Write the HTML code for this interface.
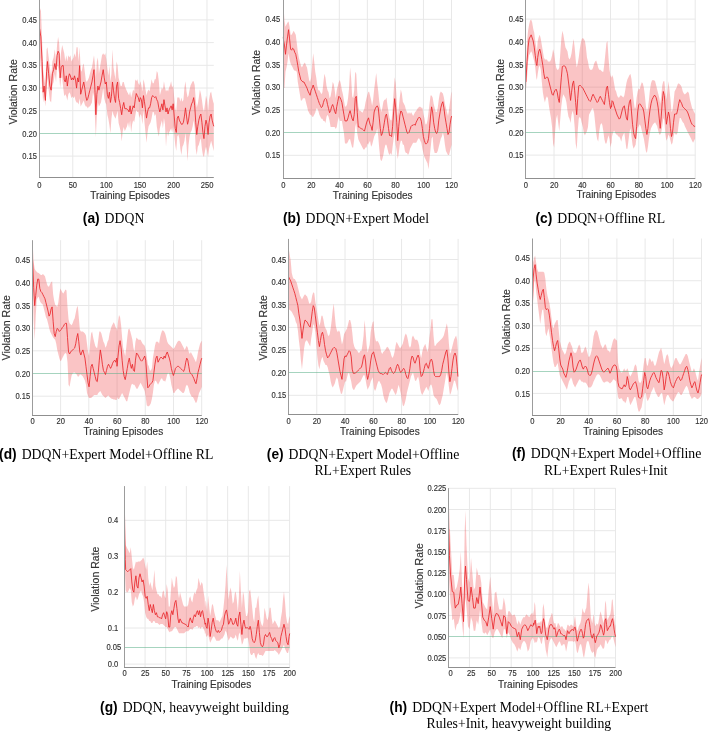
<!DOCTYPE html>
<html><head><meta charset="utf-8"><style>html,body{margin:0;padding:0;background:#fff;}svg{display:block;will-change:transform}</style></head>
<body><svg width="708" height="732" viewBox="0 0 708 732" shape-rendering="auto">
<rect width="708" height="732" fill="#fff"/>
<g stroke="#e8e8e8" stroke-width="1"><line x1="72.76" y1="0" x2="72.76" y2="177.4"/><line x1="106.32" y1="0" x2="106.32" y2="177.4"/><line x1="139.87" y1="0" x2="139.87" y2="177.4"/><line x1="173.43" y1="0" x2="173.43" y2="177.4"/><line x1="206.99" y1="0" x2="206.99" y2="177.4"/><line x1="39.3" y1="19.9" x2="213.8" y2="19.9"/><line x1="39.3" y1="42.6" x2="213.8" y2="42.6"/><line x1="39.3" y1="65.3" x2="213.8" y2="65.3"/><line x1="39.3" y1="88" x2="213.8" y2="88"/><line x1="39.3" y1="110.7" x2="213.8" y2="110.7"/><line x1="39.3" y1="156.1" x2="213.8" y2="156.1"/></g>
<polygon fill="#f03c3f" fill-opacity="0.3" points="39.64,12.3 40.87,8.2 42.1,40.98 43.13,69.67 44.15,77.87 45.38,86.07 46.62,49.18 47.44,47.13 48.67,57.38 49.9,67.62 51.13,77.87 52.36,61.48 53.59,57.38 54.82,49.18 56.05,61.48 57.08,45.08 58.1,36.89 59.13,43.03 60.15,61.48 61.18,51.23 62.21,45.08 63.23,49.18 64.26,53.28 65.28,61.48 66.31,55.33 67.33,61.48 68.36,55.33 69.38,57.38 70.41,55.33 71.44,61.48 72.46,59.43 73.49,57.38 74.51,53.28 75.54,57.38 76.56,47.13 77.59,47.13 78.62,61.48 79.64,47.13 80.67,69.67 81.69,71.72 82.72,65.57 83.74,63.52 84.77,71.72 85.79,79.92 86.82,81.97 87.85,79.92 88.87,77.87 89.9,73.77 90.92,69.67 91.95,67.62 92.97,61.48 94,55.33 95.03,65.57 95.85,77.87 96.87,61.48 97.9,57.38 98.92,73.77 99.95,67.62 100.97,61.48 102,55.33 103.23,53.28 104.26,55.33 105.28,53.28 106.31,59.43 107.33,67.62 108.36,75.82 109.38,65.57 110.41,81.97 111.44,73.77 112.46,49.18 113.49,67.62 114.51,73.77 115.54,79.92 116.56,61.48 117.59,65.57 118.62,77.87 119.64,81.97 120.67,86.07 121.69,86.07 122.72,81.97 123.74,81.97 124.77,86.07 127.03,91.48 128.05,93.52 129.08,95.57 130.1,91.48 131.13,97.62 132.15,93.52 133.18,89.43 134.21,91.48 135.23,79.18 136.26,81.23 137.28,79.18 138.31,83.28 139.33,85.33 140.36,81.23 141.38,85.33 142.41,91.48 143.44,79.18 144.46,83.28 145.49,89.43 146.51,95.57 147.54,91.48 148.56,89.43 149.59,91.48 150.62,85.33 151.64,79.18 152.67,83.28 153.69,83.28 154.72,79.18 155.74,79.18 156.77,70.98 157.79,73.03 158.82,81.23 159.85,95.57 160.87,91.48 161.9,87.38 162.92,89.43 163.95,81.23 164.97,87.38 166,91.48 167.03,89.43 168.05,91.48 169.08,87.38 170.1,85.33 171.13,81.23 172.15,87.38 173.18,85.33 174.21,97.62 175.23,107.87 176.26,111.97 177.28,97.62 178.31,97.62 179.33,97.62 180.36,101.72 181.38,97.62 182.41,101.72 183.44,99.67 184.46,87.38 185.49,81.23 186.51,91.48 187.54,97.62 188.56,95.57 189.59,89.43 190.62,85.33 191.64,83.28 192.67,81.23 193.69,81.23 194.72,85.33 195.74,99.67 196.77,107.87 197.79,103.77 198.82,97.62 199.85,89.43 200.87,93.52 201.9,99.67 202.92,107.87 203.95,111.97 204.97,103.77 206,95.57 207.03,99.67 208.05,111.97 209.08,99.67 210.1,93.52 211.13,91.48 212.15,97.62 213.18,101.72 213.8,103.77 213.8,150.9 213.18,148.85 212.15,144.75 211.13,140.66 210.1,144.75 209.08,148.85 208.05,157.05 207.03,150.9 206,146.8 204.97,150.9 203.95,157.05 202.92,155 201.9,148.85 200.87,138.61 199.85,140.66 198.82,144.75 197.79,146.8 196.77,155 195.74,148.85 194.72,128.36 193.69,120.16 192.67,126.31 191.64,130.41 190.62,132.46 189.59,136.56 188.56,144.75 187.54,161.15 186.51,144.75 185.49,132.46 184.46,140.66 183.44,144.75 182.41,146.8 181.38,155 180.36,148.85 179.33,138.61 178.31,134.51 177.28,136.56 176.26,150.9 175.23,144.75 174.21,134.51 173.18,126.31 172.15,132.46 171.13,128.36 170.1,130.41 169.08,132.46 168.05,136.56 167.03,130.41 166,146.8 164.97,124.26 163.95,118.11 162.92,128.36 161.9,120.16 160.87,124.26 159.85,128.36 158.82,136.56 157.79,132.46 156.77,126.31 155.74,114.02 154.72,116.07 153.69,111.97 152.67,111.97 151.64,118.11 150.62,122.21 149.59,124.26 148.56,126.31 147.54,132.46 146.51,142.7 145.49,132.46 144.46,122.21 143.44,109.92 142.41,124.26 141.38,116.07 140.36,114.02 139.33,118.11 138.31,111.97 137.28,111.97 136.26,109.92 135.23,116.07 134.21,122.21 133.18,120.16 132.15,124.26 131.13,132.46 130.1,120.16 129.08,128.36 128.05,122.21 127.03,126.31 124.77,131.15 123.74,127.05 122.72,131.15 121.69,141.39 120.67,131.15 119.64,127.05 118.62,122.95 117.59,110.66 116.56,114.75 115.54,118.85 114.51,116.8 113.49,114.75 112.46,110.66 111.44,118.85 110.41,133.2 109.38,125 108.36,118.85 107.33,114.75 106.31,104.51 105.28,102.46 104.26,98.36 103.23,88.11 102,96.31 100.97,102.46 99.95,104.51 98.92,106.56 97.9,102.46 96.87,114.75 95.85,137.3 95.03,118.85 94,96.31 92.97,92.21 91.95,102.46 90.92,104.51 89.9,106.56 88.87,106.56 87.85,108.61 86.82,106.56 85.79,106.56 84.77,104.51 83.74,100.41 82.72,102.46 81.69,104.51 80.67,106.56 79.64,98.36 78.62,104.51 77.59,102.46 76.56,102.46 75.54,100.41 74.51,96.31 73.49,98.36 72.46,96.31 71.44,98.36 70.41,94.26 69.38,92.21 68.36,94.26 67.33,100.41 66.31,96.31 65.28,94.26 64.26,96.31 63.23,88.11 62.21,77.87 61.18,77.87 60.15,88.11 59.13,73.77 58.1,67.62 57.08,65.57 56.05,81.97 54.82,73.77 53.59,81.97 52.36,86.07 51.13,102.46 49.9,100.41 48.67,90.16 47.44,77.87 46.62,88.11 45.38,106.56 44.15,96.31 43.13,102.46 42.1,86.07 40.87,67.62 39.64,53.28"/>
<line x1="39.3" y1="133.5" x2="213.8" y2="133.5" stroke="#5cb08a" stroke-opacity="0.55" stroke-width="1"/>
<polyline fill="none" stroke="#e8262b" stroke-width="0.85" stroke-linejoin="miter" stroke-miterlimit="3" points="39.64,28.69 40.87,36.89 42.1,61.48 43.13,92.21 44.15,86.07 45.38,100.41 46.62,71.72 47.44,61.48 48.67,73.77 49.9,86.07 51.13,90.16 52.36,73.77 53.59,69.67 54.82,63.52 56.05,69.67 57.08,55.33 58.1,51.23 59.13,53.28 60.15,77.87 61.18,67.62 62.21,65.57 63.23,65.57 64.26,79.92 65.28,81.97 66.31,75.82 67.33,86.07 68.36,77.87 69.38,73.77 70.41,75.82 71.44,79.92 72.46,77.87 73.49,79.92 74.51,75.82 75.54,79.92 76.56,88.11 77.59,77.87 78.62,81.97 79.64,65.57 80.67,94.26 81.69,90.16 82.72,86.07 83.74,81.97 84.77,88.11 85.79,96.31 86.82,100.41 87.85,98.36 88.87,94.26 89.9,90.16 90.92,86.07 91.95,81.97 92.97,75.82 94,69.67 95.03,92.21 95.85,114.75 96.87,94.26 97.9,86.07 98.92,90.16 99.95,86.07 100.97,81.97 102,75.82 103.23,69.67 104.26,77.87 105.28,84.02 106.31,81.97 107.33,94.26 108.36,98.36 109.38,92.21 110.41,102.46 111.44,96.31 112.46,81.97 113.49,90.16 114.51,98.36 115.54,102.46 116.56,86.07 117.59,81.97 118.62,98.36 119.64,102.46 120.67,108.61 121.69,114.75 122.72,106.56 123.74,102.46 124.77,108.61 127.03,108.89 128.05,109.92 129.08,111.97 130.1,105.82 131.13,114.02 132.15,109.92 133.18,105.82 134.21,107.87 135.23,99.67 136.26,93.52 137.28,95.57 138.31,97.62 139.33,101.72 140.36,97.62 141.38,99.67 142.41,107.87 143.44,95.57 144.46,101.72 145.49,109.92 146.51,118.11 147.54,111.97 148.56,107.87 149.59,107.87 150.62,103.77 151.64,97.62 152.67,95.57 153.69,96.6 154.72,97.62 155.74,96.6 156.77,99.67 157.79,101.72 158.82,107.87 159.85,111.97 160.87,107.87 161.9,103.77 162.92,109.92 163.95,99.67 164.97,105.82 166,111.97 167.03,107.87 168.05,114.02 169.08,109.92 170.1,107.87 171.13,105.82 172.15,109.92 173.18,103.77 174.21,116.07 175.23,128.36 176.26,132.46 177.28,118.11 178.31,116.07 179.33,120.16 180.36,122.21 181.38,124.26 182.41,124.26 183.44,122.21 184.46,116.07 185.49,107.87 186.51,116.07 187.54,124.26 188.56,120.16 189.59,111.97 190.62,107.87 191.64,103.77 192.67,101.72 193.69,97.62 194.72,105.82 195.74,122.21 196.77,134.51 197.79,126.31 198.82,120.16 199.85,116.07 200.87,114.02 201.9,122.21 202.92,132.46 203.95,138.61 204.97,126.31 206,120.16 207.03,124.26 208.05,134.51 209.08,122.21 210.1,116.07 211.13,114.02 212.15,120.16 213.18,124.26 213.8,126.31"/>
<path d="M39.5,0V177.5" fill="none" stroke="#9c9c9c" stroke-width="1"/>
<path d="M39,177.5H213.8" fill="none" stroke="#8f8f8f" stroke-width="1"/>
<g font-family='"Liberation Sans", sans-serif' font-size="8.4" fill="#333" stroke="#333" stroke-width="0.15"><text transform="translate(36.9,23) scale(0.9,1)" text-anchor="end">0.45</text><text transform="translate(36.9,45.7) scale(0.9,1)" text-anchor="end">0.40</text><text transform="translate(36.9,68.4) scale(0.9,1)" text-anchor="end">0.35</text><text transform="translate(36.9,91.1) scale(0.9,1)" text-anchor="end">0.30</text><text transform="translate(36.9,113.8) scale(0.9,1)" text-anchor="end">0.25</text><text transform="translate(36.9,136.5) scale(0.9,1)" text-anchor="end">0.20</text><text transform="translate(36.9,159.2) scale(0.9,1)" text-anchor="end">0.15</text><text transform="translate(39.3,187.6) scale(0.9,1)" text-anchor="middle">0</text><text transform="translate(72.86,187.6) scale(0.9,1)" text-anchor="middle">50</text><text transform="translate(106.42,187.6) scale(0.9,1)" text-anchor="middle">100</text><text transform="translate(139.97,187.6) scale(0.9,1)" text-anchor="middle">150</text><text transform="translate(173.53,187.6) scale(0.9,1)" text-anchor="middle">200</text><text transform="translate(207.09,187.6) scale(0.9,1)" text-anchor="middle">250</text></g>
<text x="130" y="198.7" text-anchor="middle" font-family='"Liberation Sans", sans-serif' font-size="10" fill="#333" stroke="#333" stroke-width="0.15">Training Episodes</text>
<text transform="translate(16.9,91.8) rotate(-90)" text-anchor="middle" font-family='"Liberation Sans", sans-serif' font-size="10.5" fill="#333" stroke="#333" stroke-width="0.15">Violation Rate</text>
<text x="82.8" y="222.6" font-family='"Liberation Sans", sans-serif' font-weight="bold" font-size="13.75" fill="#000">(a)<tspan font-family='"Liberation Serif", serif' font-weight="normal" dx="5">DDQN</tspan></text>
<g stroke="#e8e8e8" stroke-width="1"><line x1="311.25" y1="0" x2="311.25" y2="178.4"/><line x1="339.3" y1="0" x2="339.3" y2="178.4"/><line x1="367.35" y1="0" x2="367.35" y2="178.4"/><line x1="395.4" y1="0" x2="395.4" y2="178.4"/><line x1="423.45" y1="0" x2="423.45" y2="178.4"/><line x1="451.5" y1="0" x2="451.5" y2="178.4"/><line x1="283.3" y1="19.3" x2="451.6" y2="19.3"/><line x1="283.3" y1="41.97" x2="451.6" y2="41.97"/><line x1="283.3" y1="64.63" x2="451.6" y2="64.63"/><line x1="283.3" y1="87.3" x2="451.6" y2="87.3"/><line x1="283.3" y1="109.97" x2="451.6" y2="109.97"/><line x1="283.3" y1="155.3" x2="451.6" y2="155.3"/></g>
<polygon fill="#f03c3f" fill-opacity="0.3" points="283.3,-4.1 283.64,8.2 284.46,20.49 285.49,26.64 286.51,24.59 287.54,22.54 288.56,21.52 289.59,26.64 290.62,34.84 291.64,34.84 292.67,32.79 293.69,30.74 294.72,32.79 295.74,34.84 296.77,43.03 297.79,51.23 298.82,57.38 299.85,61.48 300.87,65.57 301.9,67.62 302.92,65.57 303.95,63.52 304.97,62.5 306,65.57 307.03,67.62 308.05,73.77 309.08,79.92 310.1,81.97 311.13,77.87 312.15,65.57 313.18,53.28 314.21,61.48 315.23,71.72 316.26,77.87 317.28,86.07 318.31,90.16 319.33,90.16 320.36,92.21 321.38,94.26 322.41,92.21 323.44,81.97 324.46,73.77 325.49,77.87 326.51,86.07 327.54,90.16 328.56,92.21 329.59,98.36 330.62,96.31 331.64,90.16 332.67,81.97 333.69,84.02 334.72,90.16 335.74,98.36 336.77,90.16 337.79,86.07 338.82,81.97 339.85,79.92 340.87,84.02 341.9,90.16 342.92,94.26 343.95,100.41 344.97,106.56 346,106.56 347.03,104.51 348.05,98.36 349.08,88.11 350.1,67.62 351.13,77.87 352.15,96.31 353.18,98.36 354.21,90.16 355.23,71.72 356.26,73.77 357.28,92.21 358.31,106.56 359.33,110.66 360.36,110.66 361.38,111.68 362.41,112.7 363.44,110.66 364.46,108.61 365.49,102.46 366.51,98.36 367.54,94.26 368.41,91.48 368.56,92.21 369.03,91.48 370.05,95.57 371.08,99.67 372.1,105.82 373.13,99.67 374.15,89.43 375.18,81.23 376.21,73.03 377.23,83.28 378.26,91.48 379.28,101.72 380.31,107.87 381.33,111.97 382.36,107.87 383.38,101.72 384.41,99.67 385.44,99.67 386.46,97.62 387.49,105.82 388.51,111.97 389.54,118.11 390.56,120.16 391.59,120.16 392.62,107.87 393.64,91.48 394.67,77.13 395.69,83.28 396.72,99.67 397.74,116.07 398.77,107.87 399.79,97.62 400.82,89.43 401.85,93.52 402.87,101.72 403.9,103.77 404.92,105.82 405.95,109.92 406.97,111.97 408,114.02 409.03,111.97 410.05,114.02 411.08,111.97 412.1,114.02 413.13,116.07 414.15,114.02 415.18,111.97 416.21,110.94 417.23,108.89 418.26,107.87 419.28,106.84 420.31,106.84 421.33,107.87 422.36,107.87 423.38,114.02 424.41,118.11 425.44,124.26 426.46,124.26 427.49,120.16 428.51,111.97 429.54,103.77 430.56,95.57 431.59,95.57 432.62,97.62 433.64,103.77 434.67,107.87 435.69,111.97 436.72,111.97 437.74,107.87 438.77,99.67 439.79,93.52 440.82,91.48 441.85,92.5 442.87,93.52 443.9,97.62 444.92,103.77 445.95,107.87 446.97,111.97 448,116.07 449.03,109.92 450.05,101.72 451.08,93.52 451.6,91.48 451.6,144.75 451.08,146.8 450.05,150.9 449.03,155 448,155 446.97,152.95 445.95,150.9 444.92,144.75 443.9,136.56 442.87,132.46 441.85,136.56 440.82,138.61 439.79,142.7 438.77,146.8 437.74,150.9 436.72,152.95 435.69,152.95 434.67,152.95 433.64,148.85 432.62,136.56 431.59,138.61 430.56,148.85 429.54,159.1 428.51,169.34 427.49,163.2 426.46,161.15 425.44,159.1 424.41,157.05 423.38,152.95 422.36,148.85 421.33,142.7 420.31,140.66 419.28,138.61 418.26,138.61 417.23,140.66 416.21,142.7 415.18,142.7 414.15,142.7 413.13,142.7 412.1,144.75 411.08,146.8 410.05,148.85 409.03,152.95 408,155 406.97,152.95 405.95,152.95 404.92,150.9 403.9,144.75 402.87,144.75 401.85,140.66 400.82,140.66 399.79,144.75 398.77,152.95 397.74,159.1 396.72,150.9 395.69,144.75 394.67,132.46 393.64,138.61 392.62,146.8 391.59,155 390.56,152.95 389.54,155 388.51,152.95 387.49,148.85 386.46,144.75 385.44,144.75 384.41,148.85 383.38,155 382.36,159.1 381.33,161.15 380.31,159.1 379.28,148.85 378.26,136.56 377.23,128.36 376.21,132.46 375.18,134.51 374.15,136.56 373.13,140.66 372.1,144.75 371.08,146.8 370.05,140.66 369.03,142.7 368.56,143.44 368.41,144.75 367.54,143.44 366.51,147.54 365.49,147.54 364.46,149.59 363.44,149.59 362.41,147.54 361.38,145.49 360.36,143.44 359.33,141.39 358.31,139.34 357.28,133.2 356.26,122.95 355.23,127.05 354.21,139.34 353.18,147.54 352.15,147.54 351.13,143.44 350.1,139.34 349.08,139.34 348.05,141.39 347.03,143.44 346,143.44 344.97,143.44 343.95,133.2 342.92,127.05 341.9,120.9 340.87,120.9 339.85,120.9 338.82,116.8 337.79,120.9 336.77,127.05 335.74,129.1 334.72,127.05 333.69,127.05 332.67,127.05 331.64,127.05 330.62,127.05 329.59,120.9 328.56,116.8 327.54,114.75 326.51,116.8 325.49,122.95 324.46,120.9 323.44,120.9 322.41,118.85 321.38,118.85 320.36,116.8 319.33,114.75 318.31,110.66 317.28,108.61 316.26,108.61 315.23,112.7 314.21,114.75 313.18,116.8 312.15,116.8 311.13,114.75 310.1,114.75 309.08,112.7 308.05,110.66 307.03,106.56 306,102.46 304.97,98.36 303.95,98.36 302.92,98.36 301.9,100.41 300.87,100.41 299.85,94.26 298.82,88.11 297.79,81.97 296.77,71.72 295.74,70.7 294.72,70.7 293.69,69.67 292.67,67.62 291.64,65.57 290.62,63.52 289.59,59.43 288.56,53.28 287.54,61.48 286.51,67.62 285.49,71.72 284.46,88.11 283.64,88.11 283.3,86.07"/>
<line x1="283.3" y1="132.5" x2="451.6" y2="132.5" stroke="#5cb08a" stroke-opacity="0.55" stroke-width="1"/>
<polyline fill="none" stroke="#e8262b" stroke-width="0.85" stroke-linejoin="miter" stroke-miterlimit="3" points="283.3,36.89 283.64,40.98 284.46,45.08 285.49,54.3 286.51,45.08 287.54,36.89 288.56,29.71 289.59,38.93 290.62,49.18 291.64,50.2 292.67,48.16 293.69,49.18 294.72,52.25 295.74,54.3 296.77,59.43 297.79,65.57 298.82,71.72 299.85,75.82 300.87,79.92 301.9,80.94 302.92,81.97 303.95,81.97 304.97,84.02 306,86.07 307.03,88.11 308.05,91.19 309.08,93.24 310.1,95.29 311.13,90.16 312.15,88.11 313.18,85.04 314.21,88.11 315.23,91.19 316.26,94.26 317.28,97.34 318.31,100.41 319.33,103.48 320.36,105.53 321.38,107.58 322.41,106.56 323.44,102.46 324.46,99.39 325.49,98.36 326.51,99.39 327.54,104.51 328.56,108.61 329.59,112.7 330.62,110.66 331.64,106.56 332.67,104.51 333.69,107.58 334.72,111.68 335.74,113.73 336.77,106.56 337.79,101.43 338.82,96.31 339.85,97.34 340.87,99.39 341.9,102.46 342.92,108.61 343.95,114.75 344.97,120.9 346,120.9 347.03,120.9 348.05,117.83 349.08,113.73 350.1,110.66 351.13,114.75 352.15,118.85 353.18,120.9 354.21,114.75 355.23,98.36 356.26,96.31 357.28,112.7 358.31,127.05 359.33,127.05 360.36,128.07 361.38,128.69 362.41,129.1 363.44,130.12 364.46,131.15 365.49,127.05 366.51,122.95 367.54,119.88 368.41,118.11 368.56,117.83 369.03,120.16 370.05,124.26 371.08,126.31 372.1,130.41 373.13,122.21 374.15,111.97 375.18,108.89 376.21,106.84 377.23,105.82 378.26,107.87 379.28,118.11 380.31,128.36 381.33,135.53 382.36,133.48 383.38,128.36 384.41,122.21 385.44,116.07 386.46,114.02 387.49,120.16 388.51,128.36 389.54,135.53 390.56,135.53 391.59,136.56 392.62,126.31 393.64,111.97 394.67,98.65 395.69,107.87 396.72,122.21 397.74,140.66 398.77,126.31 399.79,116.07 400.82,110.94 401.85,111.97 402.87,116.07 403.9,120.16 404.92,124.26 405.95,128.36 406.97,132.46 408,133.48 409.03,132.46 410.05,129.39 411.08,126.31 412.1,125.29 413.13,125.29 414.15,124.26 415.18,125.29 416.21,122.21 417.23,120.16 418.26,118.11 419.28,117.09 420.31,118.11 421.33,121.19 422.36,128.36 423.38,136.56 424.41,140.66 425.44,143.73 426.46,143.73 427.49,142.7 428.51,138.61 429.54,128.36 430.56,116.07 431.59,106.84 432.62,111.97 433.64,122.21 434.67,128.36 435.69,132.46 436.72,133.48 437.74,130.41 438.77,120.16 439.79,114.02 440.82,107.87 441.85,103.77 442.87,101.72 443.9,107.87 444.92,116.07 445.95,122.21 446.97,128.36 448,134.51 449.03,132.46 450.05,124.26 451.08,118.11 451.6,116.07"/>
<path d="M283.5,0V178.5" fill="none" stroke="#9c9c9c" stroke-width="1"/>
<path d="M283,178.5H451.6" fill="none" stroke="#8f8f8f" stroke-width="1"/>
<g font-family='"Liberation Sans", sans-serif' font-size="8.4" fill="#333" stroke="#333" stroke-width="0.15"><text transform="translate(280.1,22.4) scale(0.9,1)" text-anchor="end">0.45</text><text transform="translate(280.1,45.07) scale(0.9,1)" text-anchor="end">0.40</text><text transform="translate(280.1,67.73) scale(0.9,1)" text-anchor="end">0.35</text><text transform="translate(280.1,90.4) scale(0.9,1)" text-anchor="end">0.30</text><text transform="translate(280.1,113.07) scale(0.9,1)" text-anchor="end">0.25</text><text transform="translate(280.1,135.73) scale(0.9,1)" text-anchor="end">0.20</text><text transform="translate(280.1,158.4) scale(0.9,1)" text-anchor="end">0.15</text><text transform="translate(283.3,187.6) scale(0.9,1)" text-anchor="middle">0</text><text transform="translate(311.35,187.6) scale(0.9,1)" text-anchor="middle">20</text><text transform="translate(339.4,187.6) scale(0.9,1)" text-anchor="middle">40</text><text transform="translate(367.45,187.6) scale(0.9,1)" text-anchor="middle">60</text><text transform="translate(395.5,187.6) scale(0.9,1)" text-anchor="middle">80</text><text transform="translate(423.55,187.6) scale(0.9,1)" text-anchor="middle">100</text><text transform="translate(451.6,187.6) scale(0.9,1)" text-anchor="middle">120</text></g>
<text x="372.7" y="198.5" text-anchor="middle" font-family='"Liberation Sans", sans-serif' font-size="10" fill="#333" stroke="#333" stroke-width="0.15">Training Episodes</text>
<text transform="translate(260.4,82.5) rotate(-90)" text-anchor="middle" font-family='"Liberation Sans", sans-serif' font-size="10.5" fill="#333" stroke="#333" stroke-width="0.15">Violation Rate</text>
<text x="283" y="222.6" font-family='"Liberation Sans", sans-serif' font-weight="bold" font-size="13.75" fill="#000">(b)<tspan font-family='"Liberation Serif", serif' font-weight="normal" dx="5">DDQN+Expert Model</tspan></text>
<g stroke="#e8e8e8" stroke-width="1"><line x1="554.03" y1="0" x2="554.03" y2="178.4"/><line x1="582.27" y1="0" x2="582.27" y2="178.4"/><line x1="610.5" y1="0" x2="610.5" y2="178.4"/><line x1="638.73" y1="0" x2="638.73" y2="178.4"/><line x1="666.97" y1="0" x2="666.97" y2="178.4"/><line x1="695.2" y1="0" x2="695.2" y2="178.4"/><line x1="525.9" y1="19.1" x2="695.3" y2="19.1"/><line x1="525.9" y1="41.77" x2="695.3" y2="41.77"/><line x1="525.9" y1="64.43" x2="695.3" y2="64.43"/><line x1="525.9" y1="87.1" x2="695.3" y2="87.1"/><line x1="525.9" y1="109.77" x2="695.3" y2="109.77"/><line x1="525.9" y1="155.1" x2="695.3" y2="155.1"/></g>
<polygon fill="#f03c3f" fill-opacity="0.3" points="525.9,67.62 527.05,40.98 528.08,30.74 529.1,24.59 530.13,20.49 531.15,19.47 532.18,22.54 533.21,28.69 534.23,32.79 535.26,40.98 536.28,47.13 536.9,51.23 537.72,40.98 538.74,36.89 539.77,34.84 540.79,38.93 541.82,45.08 542.85,51.23 543.87,57.38 544.9,59.43 545.92,59.43 546.95,59.43 547.97,61.48 549,61.48 550.03,61.48 551.05,59.43 552.08,55.33 553.1,49.18 554.13,53.28 555.15,61.48 556.18,67.62 557.21,69.67 558.23,69.67 559.26,67.62 560.28,53.28 561.31,38.93 562.33,30.74 563.36,34.84 564.38,40.98 565.41,47.13 566.44,49.18 567.46,51.23 568.49,57.38 569.51,59.43 570.54,57.38 571.56,53.28 572.59,45.08 573.62,38.93 574.64,47.13 575.67,59.43 576.69,67.62 577.72,63.52 578.74,57.38 579.77,49.18 580.79,43.03 581.82,38.93 582.85,37.91 583.87,38.93 584.9,40.98 585.92,47.13 586.95,57.38 587.97,61.48 589,67.62 590.03,69.67 591.05,69.67 592.08,69.67 593.1,67.62 594.13,63.52 595.15,61.48 596.18,60.45 597.21,63.52 598.23,67.62 599.26,69.67 600.28,69.67 601.31,70.7 602.33,71.72 603.36,71.72 604.38,63.52 605.41,53.28 606.44,43.03 607.46,40.98 608.49,57.38 609.51,69.67 610.54,75.82 611.41,77.13 611.56,77.87 612.03,75.08 613.05,77.13 614.08,83.28 615.1,89.43 616.13,91.48 617.15,95.57 618.18,97.62 619.21,97.62 620.23,95.57 621.26,95.57 622.28,96.6 623.31,97.62 624.33,95.57 625.36,89.43 626.38,83.28 627.41,79.18 628.44,77.13 629.46,75.08 630.49,74.06 631.51,79.18 632.54,89.43 633.56,99.67 634.59,107.87 635.62,107.87 636.64,97.62 637.67,91.48 638.69,88.4 639.72,89.43 640.74,85.33 641.77,82.25 642.79,83.28 643.82,87.38 644.85,95.57 645.87,105.82 646.9,111.97 647.92,107.87 648.95,99.67 649.97,89.43 651,83.28 652.03,80.2 653.05,80.2 654.08,80.2 655.1,81.23 656.13,85.33 657.15,89.43 658.18,93.52 659.21,97.62 660.23,103.77 661.26,95.57 662.28,85.33 663.31,81.23 664.33,81.23 665.36,91.48 666.38,99.67 667.41,91.48 668.44,81.23 669.46,89.43 670.49,99.67 671.51,111.97 672.54,109.92 673.56,101.72 674.59,91.48 675.62,89.43 676.64,87.38 677.67,84.3 678.69,83.28 679.72,84.3 680.74,85.33 681.77,87.38 682.79,91.48 683.82,93.52 684.85,94.55 685.87,93.52 686.9,92.5 687.92,91.48 688.95,93.52 689.97,99.67 691,103.77 692.03,107.87 693.05,109.92 694.08,111.97 695.1,114.02 695.1,138.61 694.08,140.66 693.05,142.7 692.03,140.66 691,138.61 689.97,136.56 688.95,134.51 687.92,132.46 686.9,130.41 685.87,128.36 684.85,126.31 683.82,123.24 682.79,122.21 681.77,120.16 680.74,118.11 679.72,118.11 678.69,124.26 677.67,132.46 676.64,134.51 675.62,134.51 674.59,132.46 673.56,136.56 672.54,142.7 671.51,144.75 670.49,140.66 669.46,136.56 668.44,134.51 667.41,138.61 666.38,140.66 665.36,134.51 664.33,120.16 663.31,118.11 662.28,126.31 661.26,132.46 660.23,134.51 659.21,134.51 658.18,130.41 657.15,126.31 656.13,124.26 655.1,122.21 654.08,123.24 653.05,124.26 652.03,126.31 651,128.36 649.97,132.46 648.95,138.61 647.92,146.8 646.9,152.95 645.87,150.9 644.85,144.75 643.82,138.61 642.79,134.51 641.77,130.41 640.74,126.31 639.72,124.26 638.69,126.31 637.67,128.36 636.64,136.56 635.62,144.75 634.59,146.8 633.56,148.85 632.54,144.75 631.51,136.56 630.49,128.36 629.46,132.46 628.44,140.66 627.41,148.85 626.38,148.85 625.36,140.66 624.33,132.46 623.31,134.51 622.28,136.56 621.26,141.68 620.23,138.61 619.21,136.56 618.18,136.56 617.15,134.51 616.13,134.51 615.1,132.46 614.08,130.41 613.05,132.46 612.03,136.56 611.56,143.44 611.41,142.7 610.54,147.54 609.51,139.34 608.49,135.25 607.46,139.34 606.44,143.44 605.41,143.44 604.38,139.34 603.36,131.15 602.33,125 601.31,122.95 600.28,125 599.26,131.15 598.23,141.39 597.21,139.34 596.18,133.2 595.15,122.95 594.13,112.7 593.1,108.61 592.08,108.61 591.05,110.66 590.03,112.7 589,114.75 587.97,127.05 586.95,131.15 585.92,133.2 584.9,135.25 583.87,133.2 582.85,127.05 581.82,122.95 580.79,118.85 579.77,116.8 578.74,118.85 577.72,131.15 576.69,149.59 575.67,143.44 574.64,127.05 573.62,114.75 572.59,110.66 571.56,114.75 570.54,122.95 569.51,118.85 568.49,116.8 567.46,110.66 566.44,102.46 565.41,98.36 564.38,96.31 563.36,94.26 562.33,98.36 561.31,106.56 560.28,118.85 559.26,131.15 558.23,122.95 557.21,114.75 556.18,118.85 555.15,131.15 554.13,147.54 553.1,143.44 552.08,127.05 551.05,118.85 550.03,112.7 549,106.56 547.97,98.36 546.95,96.31 545.92,98.36 544.9,102.46 543.87,98.36 542.85,92.21 541.82,81.97 540.79,69.67 539.77,65.57 538.74,67.62 537.72,73.77 536.9,79.92 536.28,77.87 535.26,67.62 534.23,61.48 533.21,57.38 532.18,53.28 531.15,51.23 530.13,53.28 529.1,55.33 528.08,61.48 527.05,77.87 525.9,90.16"/>
<line x1="525.9" y1="132.5" x2="695.3" y2="132.5" stroke="#5cb08a" stroke-opacity="0.55" stroke-width="1"/>
<polyline fill="none" stroke="#e8262b" stroke-width="0.85" stroke-linejoin="miter" stroke-miterlimit="3" points="525.9,81.97 527.05,61.48 528.08,47.13 529.1,38.93 530.13,36.89 531.15,34.84 532.18,37.91 533.21,40.98 534.23,47.13 535.26,55.33 536.28,63.52 536.9,65.57 537.72,57.38 538.74,51.23 539.77,49.18 540.79,53.28 541.82,59.43 542.85,65.57 543.87,73.77 544.9,78.89 545.92,77.87 546.95,76.84 547.97,77.87 549,81.97 550.03,86.07 551.05,90.16 552.08,94.26 553.1,95.29 554.13,92.21 555.15,90.16 556.18,89.14 557.21,92.21 558.23,98.36 559.26,102.46 560.28,90.16 561.31,77.87 562.33,66.6 563.36,65.98 564.38,65.98 565.41,66.6 566.44,69.67 567.46,73.77 568.49,81.97 569.51,90.16 570.54,100.41 571.56,92.21 572.59,84.02 573.62,80.94 574.64,90.16 575.67,102.46 576.69,114.75 577.72,98.36 578.74,86.07 579.77,85.04 580.79,86.07 581.82,87.09 582.85,88.11 583.87,90.16 584.9,92.21 585.92,94.26 586.95,96.31 587.97,98.36 589,100.41 590.03,101.43 591.05,100.41 592.08,96.31 593.1,94.26 594.13,96.31 595.15,98.36 596.18,100.41 597.21,102.46 598.23,101.43 599.26,98.36 600.28,96.31 601.31,98.36 602.33,100.41 603.36,102.46 604.38,104.51 605.41,96.31 606.44,88.11 607.46,86.07 608.49,94.26 609.51,102.46 610.54,108.61 611.41,105.82 611.56,106.56 612.03,100.7 613.05,101.72 614.08,105.82 615.1,108.89 616.13,111.97 617.15,115.04 618.18,117.09 619.21,119.14 620.23,118.11 621.26,114.02 622.28,109.92 623.31,106.84 624.33,105.82 625.36,111.97 626.38,118.11 627.41,120.16 628.44,107.87 629.46,101.72 630.49,99.67 631.51,111.97 632.54,124.26 633.56,132.46 634.59,136.56 635.62,138.61 636.64,126.31 637.67,111.97 638.69,104.8 639.72,103.77 640.74,104.8 641.77,106.84 642.79,107.87 643.82,111.97 644.85,120.16 645.87,128.36 646.9,134.51 647.92,128.36 648.95,118.11 649.97,109.92 651,103.77 652.03,99.67 653.05,97.62 654.08,95.57 655.1,95.57 656.13,97.62 657.15,101.72 658.18,107.87 659.21,118.11 660.23,128.36 661.26,116.07 662.28,101.72 663.31,91.48 664.33,95.57 665.36,111.97 666.38,124.26 667.41,118.11 668.44,111.97 669.46,116.07 670.49,128.36 671.51,136.56 672.54,132.46 673.56,122.21 674.59,114.02 675.62,114.02 676.64,114.02 677.67,109.92 678.69,103.77 679.72,99.67 680.74,101.72 681.77,103.77 682.79,106.84 683.82,107.87 684.85,108.89 685.87,109.92 686.9,110.94 687.92,112.99 688.95,116.07 689.97,119.14 691,122.21 692.03,124.26 693.05,125.29 694.08,126.31 695.1,126.31"/>
<path d="M525.5,0V178.5" fill="none" stroke="#9c9c9c" stroke-width="1"/>
<path d="M525,178.5H695.3" fill="none" stroke="#8f8f8f" stroke-width="1"/>
<g font-family='"Liberation Sans", sans-serif' font-size="8.4" fill="#333" stroke="#333" stroke-width="0.15"><text transform="translate(523.5,22.2) scale(0.9,1)" text-anchor="end">0.45</text><text transform="translate(523.5,44.87) scale(0.9,1)" text-anchor="end">0.40</text><text transform="translate(523.5,67.53) scale(0.9,1)" text-anchor="end">0.35</text><text transform="translate(523.5,90.2) scale(0.9,1)" text-anchor="end">0.30</text><text transform="translate(523.5,112.87) scale(0.9,1)" text-anchor="end">0.25</text><text transform="translate(523.5,135.53) scale(0.9,1)" text-anchor="end">0.20</text><text transform="translate(523.5,158.2) scale(0.9,1)" text-anchor="end">0.15</text><text transform="translate(525.9,187.6) scale(0.9,1)" text-anchor="middle">0</text><text transform="translate(554.13,187.6) scale(0.9,1)" text-anchor="middle">20</text><text transform="translate(582.37,187.6) scale(0.9,1)" text-anchor="middle">40</text><text transform="translate(610.6,187.6) scale(0.9,1)" text-anchor="middle">60</text><text transform="translate(638.83,187.6) scale(0.9,1)" text-anchor="middle">80</text><text transform="translate(667.07,187.6) scale(0.9,1)" text-anchor="middle">100</text><text transform="translate(695.3,187.6) scale(0.9,1)" text-anchor="middle">120</text></g>
<text x="616.35" y="198.3" text-anchor="middle" font-family='"Liberation Sans", sans-serif' font-size="10" fill="#333" stroke="#333" stroke-width="0.15">Training Episodes</text>
<text transform="translate(503.7,91.5) rotate(-90)" text-anchor="middle" font-family='"Liberation Sans", sans-serif' font-size="10.5" fill="#333" stroke="#333" stroke-width="0.15">Violation Rate</text>
<text x="535.5" y="222.5" font-family='"Liberation Sans", sans-serif' font-weight="bold" font-size="13.75" fill="#000">(c)<tspan font-family='"Liberation Serif", serif' font-weight="normal" dx="5">DDQN+Offline RL</tspan></text>
<g stroke="#e8e8e8" stroke-width="1"><line x1="60.62" y1="240.2" x2="60.62" y2="415.3"/><line x1="88.83" y1="240.2" x2="88.83" y2="415.3"/><line x1="117.05" y1="240.2" x2="117.05" y2="415.3"/><line x1="145.27" y1="240.2" x2="145.27" y2="415.3"/><line x1="173.48" y1="240.2" x2="173.48" y2="415.3"/><line x1="201.7" y1="240.2" x2="201.7" y2="415.3"/><line x1="32.5" y1="260.1" x2="201.8" y2="260.1"/><line x1="32.5" y1="282.78" x2="201.8" y2="282.78"/><line x1="32.5" y1="305.47" x2="201.8" y2="305.47"/><line x1="32.5" y1="328.15" x2="201.8" y2="328.15"/><line x1="32.5" y1="350.83" x2="201.8" y2="350.83"/><line x1="32.5" y1="396.2" x2="201.8" y2="396.2"/></g>
<polygon fill="#f03c3f" fill-opacity="0.3" points="32.64,242.1 33.67,262.59 34.69,268.74 35.72,270.79 36.74,271.81 37.77,272.84 38.79,273.07 39.82,274.1 40.85,275.12 41.87,275.12 42.9,274.1 43.92,275.12 44.95,276.15 45.97,280.25 47,284.34 48.03,286.39 49.05,286.39 50.08,284.34 51.1,282.3 52.13,281.27 53.15,294.59 54.18,300.74 55.21,304.84 56.23,305.86 57.26,306.89 58.28,302.79 59.31,294.59 60.33,288.44 61.36,290.49 62.38,292.54 63.41,293.57 64.44,291.52 65.46,289.47 66.49,290.49 67.51,306.89 68.54,319.18 69.56,323.28 70.59,324.3 71.62,325.33 72.64,323.28 73.67,320.2 74.69,318.16 75.72,313.03 76.74,307.91 77.77,305.86 78.79,317.13 79.82,329.43 80.85,331.48 81.87,331.48 82.9,331.48 83.92,332.5 84.95,333.52 85.97,335.57 87,343.77 88.03,351.97 89.05,356.07 90.08,343.77 91.1,333.52 92.13,331.48 93.15,337.62 94.18,341.72 95.21,345.82 96.23,347.87 97.26,347.87 98.28,339.67 99.31,331.48 100.33,331.48 101.36,333.52 102.38,337.62 103.41,341.72 104.44,343.77 105.46,347.87 106.49,345.82 107.51,341.72 108.54,339.67 109.56,333.52 110.59,329.43 111.62,326.35 112.64,324.3 113.67,322.25 114.69,324.3 115.72,327.38 116.74,328.4 117,331.48 118.03,321.23 119.05,315.08 120.08,317.13 121.1,325.33 122.13,337.62 123.15,347.87 124.18,351.97 125.21,356.07 126.23,347.87 127.26,337.62 128.28,329.43 129.31,328.4 130.33,331.48 131.36,335.57 132.38,339.67 133.41,347.87 134.44,351.97 135.46,341.72 136.49,337.62 137.51,338.65 138.54,339.67 139.56,339.67 140.59,339.67 141.62,341.72 142.64,343.77 143.67,344.8 144.69,345.82 145.72,349.92 146.74,356.07 147.77,364.26 148.79,366.31 149.82,370.41 150.85,370.41 151.87,368.36 152.9,358.11 153.92,351.97 154.95,345.82 155.97,341.72 157,341.72 158.03,341.72 159.05,343.77 160.08,337.62 161.1,333.52 162.13,330.45 163.15,330.45 164.18,331.48 165.21,333.52 166.23,337.62 167.26,341.72 168.28,343.77 169.31,344.8 170.33,345.82 171.36,346.84 172.38,347.87 173.41,348.89 174.44,347.87 175.46,345.82 176.49,343.77 177.51,341.72 178.54,340.7 179.56,340.7 180.59,341.72 181.62,343.77 182.64,345.82 183.67,347.87 184.69,349.92 185.72,347.87 186.74,345.82 187.77,347.87 188.79,351.97 189.82,354.02 190.85,351.97 191.87,354.02 192.9,356.07 193.92,358.11 194.95,360.16 195.97,362.21 197,358.11 198.03,351.97 199.05,347.87 200.08,343.77 201.1,341.72 201.8,340.7 201.8,386.8 201.1,388.85 200.08,390.9 199.05,392.95 198.03,397.05 197,401.15 195.97,403.2 194.95,401.15 193.92,399.1 192.9,397.05 191.87,397.05 190.85,395 189.82,392.95 188.79,388.85 187.77,385.78 186.74,384.75 185.72,386.8 184.69,390.9 183.67,392.95 182.64,392.95 181.62,391.93 180.59,390.9 179.56,389.88 178.54,388.85 177.51,388.85 176.49,389.88 175.46,390.9 174.44,392.95 173.41,392.95 172.38,388.85 171.36,384.75 170.33,378.61 169.31,374.51 168.28,372.46 167.26,374.51 166.23,378.61 165.21,381.68 164.18,380.66 163.15,380.66 162.13,378.61 161.1,378.61 160.08,380.66 159.05,382.7 158.03,384.75 157,382.7 155.97,380.66 154.95,380.66 153.92,384.75 152.9,392.95 151.87,399.1 150.85,403.2 149.82,405.25 148.79,406.27 147.77,406.27 146.74,405.25 145.72,397.05 144.69,390.9 143.67,388.85 142.64,386.8 141.62,384.75 140.59,382.7 139.56,384.75 138.54,386.8 137.51,388.85 136.49,388.85 135.46,386.8 134.44,384.75 133.41,384.75 132.38,383.73 131.36,384.75 130.33,388.85 129.31,392.95 128.28,397.05 127.26,401.15 126.23,401.15 125.21,399.1 124.18,397.05 123.15,395 122.13,392.95 121.1,395 120.08,397.05 119.05,399.1 118.03,399.1 117,397.05 116.74,399.92 115.72,399.92 114.69,399.51 113.67,399.51 112.64,399.1 111.62,398.69 110.59,398.07 109.56,397.05 108.54,395.41 107.51,396.02 106.49,397.05 105.46,398.07 104.44,397.05 103.41,396.02 102.38,395 101.36,392.95 100.33,390.9 99.31,391.93 98.28,392.95 97.26,395 96.23,395 95.21,395 94.18,395 93.15,396.02 92.13,397.05 91.1,398.07 90.08,398.07 89.05,398.07 88.03,396.02 87,392.95 85.97,384.75 84.95,380.66 83.92,378.61 82.9,376.56 81.87,375.53 80.85,374.51 79.82,374.51 78.79,376.56 77.77,376.56 76.74,374.51 75.72,373.48 74.69,372.46 73.67,372.46 72.64,373.48 71.62,375.53 70.59,380.66 69.56,386.8 68.54,384.75 67.51,362.21 66.49,354.02 65.46,352.99 64.44,354.02 63.41,356.07 62.38,358.11 61.36,360.16 60.33,361.19 59.31,358.11 58.28,354.02 57.26,349.92 56.23,343.77 55.21,339.67 54.18,338.65 53.15,337.62 52.13,335.57 51.1,333.52 50.08,331.48 49.05,327.38 48.03,323.28 47,319.18 45.97,317.13 44.95,313.03 43.92,308.93 42.9,304.84 41.87,303.81 40.85,302.79 39.82,300.74 38.79,296.64 37.77,297.43 36.74,299.48 35.72,315.87 34.69,340.46 33.67,319.97 32.64,278.98"/>
<line x1="32.5" y1="373.5" x2="201.8" y2="373.5" stroke="#5cb08a" stroke-opacity="0.55" stroke-width="1"/>
<polyline fill="none" stroke="#e8262b" stroke-width="0.85" stroke-linejoin="miter" stroke-miterlimit="3" points="32.64,260.54 33.67,287.18 34.69,305.62 35.72,295.38 36.74,285.13 37.77,278.98 38.79,279.22 39.82,288.44 40.85,291.52 41.87,292.54 42.9,294.59 43.92,296.64 44.95,298.69 45.97,302.79 47,306.89 48.03,310.98 49.05,316.11 50.08,314.06 51.1,308.93 52.13,306.89 53.15,321.23 54.18,333.52 55.21,336.6 56.23,331.48 57.26,328.4 58.28,329.43 59.31,331.48 60.33,330.45 61.36,329.43 62.38,327.38 63.41,326.35 64.44,324.3 65.46,323.28 66.49,323.28 67.51,337.62 68.54,351.97 69.56,354.02 70.59,351.97 71.62,350.94 72.64,349.92 73.67,348.89 74.69,347.87 75.72,343.77 76.74,337.62 77.77,333.52 78.79,341.72 79.82,351.97 80.85,355.04 81.87,351.97 82.9,349.92 83.92,354.02 84.95,358.11 85.97,366.31 87,374.51 88.03,382.7 89.05,386.8 90.08,376.56 91.1,366.31 92.13,364.26 93.15,368.36 94.18,372.46 95.21,376.56 96.23,380.66 97.26,381.68 98.28,372.46 99.31,360.16 100.33,349.92 101.36,356.07 102.38,364.26 103.41,370.41 104.44,372.46 105.46,374.51 106.49,370.41 107.51,366.31 108.54,364.26 109.56,366.31 110.59,368.36 111.62,366.31 112.64,363.24 113.67,361.19 114.69,360.16 115.72,362.21 116.74,358.11 117,366.31 118.03,356.07 119.05,345.82 120.08,340.7 121.1,347.87 122.13,360.16 123.15,370.41 124.18,376.56 125.21,379.63 126.23,374.51 127.26,368.36 128.28,362.21 129.31,358.11 130.33,364.26 131.36,368.36 132.38,364.26 133.41,370.41 134.44,371.43 135.46,360.16 136.49,352.99 137.51,354.02 138.54,356.07 139.56,358.11 140.59,360.16 141.62,361.19 142.64,360.16 143.67,358.11 144.69,356.07 145.72,360.16 146.74,374.51 147.77,387.83 148.79,386.8 149.82,384.75 150.85,383.73 151.87,382.7 152.9,380.66 153.92,372.46 154.95,364.26 155.97,358.11 157,356.07 158.03,362.21 159.05,360.16 160.08,358.11 161.1,357.09 162.13,358.11 163.15,359.14 164.18,356.07 165.21,358.11 166.23,354.02 167.26,351.97 168.28,355.04 169.31,358.11 170.33,362.21 171.36,368.36 172.38,372.46 173.41,375.53 174.44,372.46 175.46,368.36 176.49,367.34 177.51,366.31 178.54,366.31 179.56,367.34 180.59,368.36 181.62,369.39 182.64,370.41 183.67,371.43 184.69,368.36 185.72,362.21 186.74,358.11 187.77,360.16 188.79,366.31 189.82,372.46 190.85,373.48 191.87,374.51 192.9,376.56 193.92,378.61 194.95,381.68 195.97,383.73 197,378.61 198.03,372.46 199.05,368.36 200.08,364.26 201.1,360.16 201.8,358.11"/>
<path d="M32.5,240.2V415.5" fill="none" stroke="#9c9c9c" stroke-width="1"/>
<path d="M32,415.5H201.8" fill="none" stroke="#8f8f8f" stroke-width="1"/>
<g font-family='"Liberation Sans", sans-serif' font-size="8.4" fill="#333" stroke="#333" stroke-width="0.15"><text transform="translate(30.1,263.2) scale(0.9,1)" text-anchor="end">0.45</text><text transform="translate(30.1,285.88) scale(0.9,1)" text-anchor="end">0.40</text><text transform="translate(30.1,308.57) scale(0.9,1)" text-anchor="end">0.35</text><text transform="translate(30.1,331.25) scale(0.9,1)" text-anchor="end">0.30</text><text transform="translate(30.1,353.93) scale(0.9,1)" text-anchor="end">0.25</text><text transform="translate(30.1,376.62) scale(0.9,1)" text-anchor="end">0.20</text><text transform="translate(30.1,399.3) scale(0.9,1)" text-anchor="end">0.15</text><text transform="translate(32.5,423.5) scale(0.9,1)" text-anchor="middle">0</text><text transform="translate(60.72,423.5) scale(0.9,1)" text-anchor="middle">20</text><text transform="translate(88.93,423.5) scale(0.9,1)" text-anchor="middle">40</text><text transform="translate(117.15,423.5) scale(0.9,1)" text-anchor="middle">60</text><text transform="translate(145.37,423.5) scale(0.9,1)" text-anchor="middle">80</text><text transform="translate(173.58,423.5) scale(0.9,1)" text-anchor="middle">100</text><text transform="translate(201.8,423.5) scale(0.9,1)" text-anchor="middle">120</text></g>
<text x="123.35" y="435" text-anchor="middle" font-family='"Liberation Sans", sans-serif' font-size="10" fill="#333" stroke="#333" stroke-width="0.15">Training Episodes</text>
<text transform="translate(10.2,327.8) rotate(-90)" text-anchor="middle" font-family='"Liberation Sans", sans-serif' font-size="10.5" fill="#333" stroke="#333" stroke-width="0.15">Violation Rate</text>
<text x="-0.9" y="458.6" font-family='"Liberation Sans", sans-serif' font-weight="bold" font-size="13.75" fill="#000">(d)<tspan font-family='"Liberation Serif", serif' font-weight="normal" dx="5">DDQN+Expert Model+Offline RL</tspan></text>
<g stroke="#e8e8e8" stroke-width="1"><line x1="316.77" y1="238.9" x2="316.77" y2="414.5"/><line x1="345.03" y1="238.9" x2="345.03" y2="414.5"/><line x1="373.3" y1="238.9" x2="373.3" y2="414.5"/><line x1="401.57" y1="238.9" x2="401.57" y2="414.5"/><line x1="429.83" y1="238.9" x2="429.83" y2="414.5"/><line x1="458.1" y1="238.9" x2="458.1" y2="414.5"/><line x1="288.6" y1="259.5" x2="458.2" y2="259.5"/><line x1="288.6" y1="282.13" x2="458.2" y2="282.13"/><line x1="288.6" y1="304.77" x2="458.2" y2="304.77"/><line x1="288.6" y1="327.4" x2="458.2" y2="327.4"/><line x1="288.6" y1="350.03" x2="458.2" y2="350.03"/><line x1="288.6" y1="395.3" x2="458.2" y2="395.3"/></g>
<polygon fill="#f03c3f" fill-opacity="0.3" points="288.64,248.25 289.67,254.39 290.69,260.54 291.72,272.84 292.74,276.93 293.77,278.98 294.79,278.98 295.82,281.03 296.85,283.08 297.87,287.18 298.9,291.28 299.92,295.38 300.95,297.43 301.97,299.48 303,297.43 304.03,295.38 305.05,294.35 306.08,295.38 307.1,296.4 308.13,299.48 309.15,303.57 310.18,303.57 311.21,301.52 312.23,295.38 313.26,292.3 314.28,293.33 315.31,301.52 316.33,307.67 317.36,313.82 318.38,319.97 319.41,326.11 320.44,322.02 321.46,315.87 322.49,315.87 323.51,319.97 324.54,326.11 325.56,328.16 326.59,330.21 327.62,334.31 328.64,336.36 329.67,334.31 330.69,328.16 331.72,319.97 332.74,309.72 333.77,303.57 334.79,315.87 335.82,326.11 336.85,330.21 337.87,332.26 338.9,330.21 339.92,332.26 340.95,338.41 341.97,344.56 343,340.46 344.03,334.31 345.05,332.26 346.08,330.21 347.1,328.16 348.13,324.07 349.15,319.97 350.18,319.97 351.21,324.07 352.23,332.26 353.26,342.51 354.28,346.61 355.31,348.66 356.33,349.68 357.36,350.7 358.38,352.75 359.41,352.75 360.44,350.7 361.46,350.7 362.49,344.56 363.51,336.36 364.54,319.97 365.56,330.21 366.59,344.56 367.62,352.75 368.64,348.66 369.67,344.56 370.69,332.26 371.72,326.11 372.74,322.02 373.62,321.23 374.03,329.43 375.05,337.62 376.08,341.72 377.1,340.7 378.13,341.72 379.15,343.77 380.18,346.84 381.21,351.97 382.23,354.02 383.26,351.97 384.28,350.94 385.31,349.92 386.33,347.87 387.36,346.84 388.38,347.87 389.41,349.92 390.44,351.97 391.46,356.07 392.49,358.11 393.51,356.07 394.54,351.97 395.56,345.82 396.59,341.72 397.62,343.77 398.64,345.82 399.67,347.87 400.69,347.87 401.72,345.82 402.74,343.77 403.77,339.67 404.79,335.57 405.82,333.52 406.85,335.57 407.87,339.67 408.9,345.82 409.92,347.87 410.95,345.82 411.97,337.62 413,335.57 414.03,337.62 415.05,339.67 416.08,339.67 417.1,339.67 418.13,341.72 419.15,345.82 420.18,354.02 421.21,358.11 422.23,351.97 423.26,347.87 424.28,345.82 425.31,343.77 426.33,347.87 427.36,351.97 428.38,347.87 429.41,337.62 430.44,329.43 431.46,319.18 432.49,319.18 433.51,335.57 434.54,345.82 435.56,345.82 436.59,343.77 437.62,342.75 438.64,341.72 439.67,340.7 440.69,339.67 441.72,338.65 442.74,337.62 443.77,335.57 444.79,331.48 445.82,327.38 446.85,323.28 447.87,329.43 448.9,343.77 449.92,354.02 450.95,351.97 451.97,347.87 453,343.77 454.03,339.67 455.05,337.62 456.08,335.57 457.1,339.67 457.92,351.97 457.92,390.9 457.1,388.85 456.08,384.75 455.05,380.66 454.03,380.66 453,384.75 451.97,388.85 450.95,392.95 449.92,395 448.9,386.8 447.87,378.61 446.85,372.46 445.82,376.56 444.79,382.7 443.77,388.85 442.74,395 441.72,399.1 440.69,403.2 439.67,405.25 438.64,404.22 437.62,401.15 436.59,399.1 435.56,398.07 434.54,397.05 433.51,395 432.49,388.85 431.46,384.75 430.44,384.75 429.41,386.8 428.38,390.9 427.36,388.85 426.33,386.8 425.31,388.85 424.28,390.9 423.26,392.95 422.23,395 421.21,392.95 420.18,388.85 419.15,380.66 418.13,376.56 417.1,378.61 416.08,380.66 415.05,380.66 414.03,376.56 413,372.46 411.97,374.51 410.95,376.56 409.92,380.66 408.9,384.75 407.87,388.85 406.85,392.95 405.82,399.1 404.79,403.2 403.77,406.27 402.74,405.25 401.72,399.1 400.69,392.95 399.67,388.85 398.64,384.75 397.62,388.85 396.59,392.95 395.56,395 394.54,392.95 393.51,390.9 392.49,388.85 391.46,388.85 390.44,390.9 389.41,392.95 388.38,397.05 387.36,401.15 386.33,403.2 385.31,401.15 384.28,399.1 383.26,395 382.23,388.85 381.21,384.75 380.18,382.7 379.15,380.66 378.13,381.68 377.1,384.75 376.08,388.85 375.05,390.9 374.03,388.85 373.62,384.75 372.74,377.34 371.72,379.39 370.69,381.44 369.67,385.54 368.64,387.59 367.62,389.64 366.59,385.54 365.56,379.39 364.54,375.3 363.51,375.3 362.49,377.34 361.46,379.39 360.44,381.44 359.41,382.47 358.38,383.49 357.36,384.52 356.33,385.54 355.31,387.59 354.28,389.64 353.26,389.64 352.23,387.59 351.21,381.44 350.18,377.34 349.15,373.25 348.13,373.25 347.1,377.34 346.08,381.44 345.05,381.44 344.03,385.54 343,389.64 341.97,393.74 340.95,393.74 339.92,389.64 338.9,385.54 337.87,379.39 336.85,377.34 335.82,379.39 334.79,383.49 333.77,385.54 332.74,387.59 331.72,385.54 330.69,381.44 329.67,375.3 328.64,371.2 327.62,367.1 326.59,365.05 325.56,365.05 324.54,363 323.51,360.95 322.49,356.85 321.46,358.9 320.44,363 319.41,369.15 318.38,365.05 317.36,356.85 316.33,344.56 315.31,332.26 314.28,326.11 313.26,324.07 312.23,332.26 311.21,338.41 310.18,346.61 309.15,344.56 308.13,342.51 307.1,340.46 306.08,340.46 305.05,342.51 304.03,348.66 303,358.9 301.97,369.15 300.95,360.95 299.92,348.66 298.9,340.46 297.87,330.21 296.85,324.07 295.82,322.02 294.79,317.92 293.77,315.87 292.74,313.82 291.72,311.77 290.69,310.75 289.67,309.72 288.64,309.72"/>
<line x1="288.6" y1="372.5" x2="458.2" y2="372.5" stroke="#5cb08a" stroke-opacity="0.55" stroke-width="1"/>
<polyline fill="none" stroke="#e8262b" stroke-width="0.85" stroke-linejoin="miter" stroke-miterlimit="3" points="288.64,276.93 289.67,278.98 290.69,281.03 291.72,284.11 292.74,287.18 293.77,290.25 294.79,293.33 295.82,297.43 296.85,301.52 297.87,305.62 298.9,313.82 299.92,319.97 300.95,328.16 301.97,338.41 303,330.21 304.03,324.07 305.05,319.97 306.08,320.99 307.1,322.02 308.13,324.07 309.15,326.11 310.18,327.14 311.21,319.97 312.23,311.77 313.26,305.62 314.28,307.67 315.31,315.87 316.33,324.07 317.36,332.26 318.38,340.46 319.41,346.61 320.44,340.46 321.46,334.31 322.49,332.26 323.51,336.36 324.54,344.56 325.56,350.7 326.59,354.8 327.62,357.88 328.64,356.85 329.67,354.8 330.69,352.75 331.72,350.7 332.74,348.66 333.77,347.63 334.79,347.63 335.82,348.66 336.85,352.75 337.87,358.9 338.9,365.05 339.92,371.2 340.95,375.3 341.97,379.39 343,369.15 344.03,358.9 345.05,355.83 346.08,356.85 347.1,354.8 348.13,352.75 349.15,350.7 350.18,351.73 351.21,356.85 352.23,369.15 353.26,373.25 354.28,373.25 355.31,373.25 356.33,372.22 357.36,371.2 358.38,370.17 359.41,369.15 360.44,368.12 361.46,367.1 362.49,363 363.51,356.85 364.54,354.8 365.56,360.95 366.59,373.25 367.62,379.39 368.64,375.3 369.67,369.15 370.69,360.95 371.72,354.8 372.74,352.75 373.62,351.97 374.03,354.02 375.05,358.11 376.08,362.21 377.1,366.31 378.13,370.41 379.15,372.46 380.18,373.48 381.21,373.48 382.23,374.1 383.26,374.51 384.28,373.48 385.31,372.46 386.33,373.48 387.36,374.51 388.38,371.43 389.41,368.36 390.44,367.34 391.46,370.41 392.49,372.46 393.51,373.48 394.54,372.46 395.56,370.41 396.59,366.31 397.62,364.26 398.64,366.31 399.67,370.41 400.69,372.46 401.72,371.43 402.74,369.39 403.77,368.36 404.79,370.41 405.82,374.51 406.85,377.58 407.87,378.61 408.9,374.51 409.92,368.36 410.95,360.16 411.97,356.07 413,357.09 414.03,361.19 415.05,363.24 416.08,360.16 417.1,357.09 418.13,355.04 419.15,358.11 420.18,370.41 421.21,376.56 422.23,375.53 423.26,372.46 424.28,368.36 425.31,364.26 426.33,363.24 427.36,366.31 428.38,368.36 429.41,364.26 430.44,360.16 431.46,359.14 432.49,362.21 433.51,370.41 434.54,375.53 435.56,376.56 436.59,376.56 437.62,376.56 438.64,376.56 439.67,376.56 440.69,374.51 441.72,370.41 442.74,364.26 443.77,360.16 444.79,356.07 445.82,351.97 446.85,349.92 447.87,358.11 448.9,372.46 449.92,381.68 450.95,376.56 451.97,368.36 453,360.16 454.03,355.04 455.05,352.99 456.08,356.07 457.1,366.31 457.92,376.56"/>
<path d="M288.5,238.9V414.5" fill="none" stroke="#9c9c9c" stroke-width="1"/>
<path d="M288,414.5H458.2" fill="none" stroke="#8f8f8f" stroke-width="1"/>
<g font-family='"Liberation Sans", sans-serif' font-size="8.4" fill="#333" stroke="#333" stroke-width="0.15"><text transform="translate(286.2,262.6) scale(0.9,1)" text-anchor="end">0.45</text><text transform="translate(286.2,285.23) scale(0.9,1)" text-anchor="end">0.40</text><text transform="translate(286.2,307.87) scale(0.9,1)" text-anchor="end">0.35</text><text transform="translate(286.2,330.5) scale(0.9,1)" text-anchor="end">0.30</text><text transform="translate(286.2,353.13) scale(0.9,1)" text-anchor="end">0.25</text><text transform="translate(286.2,375.77) scale(0.9,1)" text-anchor="end">0.20</text><text transform="translate(286.2,398.4) scale(0.9,1)" text-anchor="end">0.15</text><text transform="translate(288.6,423.5) scale(0.9,1)" text-anchor="middle">0</text><text transform="translate(316.87,423.5) scale(0.9,1)" text-anchor="middle">20</text><text transform="translate(345.13,423.5) scale(0.9,1)" text-anchor="middle">40</text><text transform="translate(373.4,423.5) scale(0.9,1)" text-anchor="middle">60</text><text transform="translate(401.67,423.5) scale(0.9,1)" text-anchor="middle">80</text><text transform="translate(429.93,423.5) scale(0.9,1)" text-anchor="middle">100</text><text transform="translate(458.2,423.5) scale(0.9,1)" text-anchor="middle">120</text></g>
<text x="379.85" y="434.5" text-anchor="middle" font-family='"Liberation Sans", sans-serif' font-size="10" fill="#333" stroke="#333" stroke-width="0.15">Training Episodes</text>
<text transform="translate(266.6,327.8) rotate(-90)" text-anchor="middle" font-family='"Liberation Sans", sans-serif' font-size="10.5" fill="#333" stroke="#333" stroke-width="0.15">Violation Rate</text>
<text x="266.8" y="458.5" font-family='"Liberation Sans", sans-serif' font-weight="bold" font-size="13.75" fill="#000">(e)<tspan font-family='"Liberation Serif", serif' font-weight="normal" dx="5">DDQN+Expert Model+Offline</tspan></text>
<text x="314.4" y="475.2" font-family='"Liberation Serif", serif' font-size="13.75" fill="#000">RL+Expert Rules</text>
<g stroke="#e8e8e8" stroke-width="1"><line x1="560.5" y1="238.5" x2="560.5" y2="415.3"/><line x1="588.7" y1="238.5" x2="588.7" y2="415.3"/><line x1="616.9" y1="238.5" x2="616.9" y2="415.3"/><line x1="645.1" y1="238.5" x2="645.1" y2="415.3"/><line x1="673.3" y1="238.5" x2="673.3" y2="415.3"/><line x1="701.5" y1="238.5" x2="701.5" y2="415.3"/><line x1="532.4" y1="258.2" x2="701.6" y2="258.2"/><line x1="532.4" y1="280.73" x2="701.6" y2="280.73"/><line x1="532.4" y1="303.27" x2="701.6" y2="303.27"/><line x1="532.4" y1="325.8" x2="701.6" y2="325.8"/><line x1="532.4" y1="348.33" x2="701.6" y2="348.33"/><line x1="532.4" y1="393.4" x2="701.6" y2="393.4"/></g>
<polygon fill="#f03c3f" fill-opacity="0.3" points="532.44,289.23 533.05,262.59 534.08,258.49 535.1,255.42 536.13,262.59 537.15,268.74 538.18,271.81 539.21,271.81 540.23,271.81 541.26,271.81 542.28,271.81 543.31,271.81 544.33,272.84 545.36,278.98 546.38,289.23 547.41,295.38 548.44,299.48 549.46,303.57 550.49,309.72 551.51,317.92 552.54,326.11 553.56,328.16 554.59,324.07 555.62,322.02 556.64,319.97 557.67,319.97 558.69,330.21 559.72,340.46 560.74,344.56 561.77,348.66 562.79,350.7 563.82,352.75 564.85,354.8 565.87,352.75 566.9,348.66 567.92,344.56 568.95,342.51 569.97,341.48 571,344.56 572.03,346.61 573.05,350.7 574.08,352.75 575.1,352.75 576.13,352.75 577.15,349.68 578.18,346.61 579.21,344.56 580.23,346.61 581.26,352.75 582.28,352.75 583.31,351.73 584.33,348.66 585.36,346.61 586.38,348.66 587.41,352.75 588.44,356.85 589.46,356.85 590.49,354.8 591.51,350.7 592.54,344.56 593.56,336.36 594.59,332.26 595.62,330.21 596.64,330.21 597.67,332.26 598.69,336.36 599.72,340.46 600.74,344.56 601.77,346.61 602.79,348.66 603.82,346.61 604.85,344.56 605.87,344.56 606.9,348.66 607.92,350.7 608.95,350.7 609.97,352.75 611,348.66 612.03,344.56 613.05,340.46 614.08,338.41 615.1,338.41 616.13,340.46 617,339.67 618.03,362.21 619.05,368.36 620.08,370.41 621.1,372.46 622.13,372.46 623.15,370.41 624.18,368.36 625.21,370.41 626.23,370.41 627.26,368.36 628.28,370.41 629.31,374.51 630.33,376.56 631.36,374.51 632.38,372.46 633.41,370.41 634.44,366.31 635.46,364.26 636.49,366.31 637.51,372.46 638.54,380.66 639.56,382.7 640.59,382.7 641.62,380.66 642.64,372.46 643.67,364.26 644.69,358.11 645.72,358.11 646.74,364.26 647.77,366.31 648.79,360.16 649.82,358.11 650.85,360.16 651.87,362.21 652.9,360.16 653.92,364.26 654.95,366.31 655.97,364.26 657,360.16 658.03,356.07 659.05,351.97 660.08,349.92 661.1,347.87 662.13,351.97 663.15,358.11 664.18,364.26 665.21,360.16 666.23,356.07 667.26,354.02 668.28,356.07 669.31,362.21 670.33,366.31 671.36,368.36 672.38,366.31 673.41,364.26 674.44,360.16 675.46,358.11 676.49,358.11 677.51,360.16 678.54,362.21 679.56,364.26 680.59,364.26 681.62,362.21 682.64,360.16 683.67,358.11 684.69,356.07 685.72,354.02 686.74,354.02 687.77,356.07 688.79,360.16 689.82,364.26 690.85,368.36 691.87,372.46 692.9,370.41 693.92,368.36 694.95,370.41 695.97,374.51 697,378.61 698.03,380.66 699.05,372.46 700.08,366.31 701.1,360.16 701.6,358.11 701.6,392.95 701.1,395 700.08,397.05 699.05,398.07 698.03,399.1 697,399.1 695.97,398.07 694.95,397.05 693.92,397.05 692.9,398.07 691.87,399.1 690.85,397.05 689.82,395 688.79,390.9 687.77,387.83 686.74,385.78 685.72,386.8 684.69,388.85 683.67,390.9 682.64,392.95 681.62,395 680.59,395 679.56,392.95 678.54,391.93 677.51,392.95 676.49,395 675.46,397.05 674.44,399.1 673.41,401.15 672.38,401.15 671.36,400.12 670.33,399.1 669.31,397.05 668.28,395 667.26,395 666.23,397.05 665.21,401.15 664.18,405.25 663.15,399.1 662.13,392.95 661.1,392.95 660.08,395 659.05,397.05 658.03,397.05 657,395 655.97,392.95 654.95,390.9 653.92,386.8 652.9,388.85 651.87,390.9 650.85,392.95 649.82,397.05 648.79,399.1 647.77,401.15 646.74,399.1 645.72,392.95 644.69,392.95 643.67,397.05 642.64,401.15 641.62,407.3 640.59,409.34 639.56,411.39 638.54,411.39 637.51,407.3 636.49,401.15 635.46,397.05 634.44,397.05 633.41,399.1 632.38,401.15 631.36,403.2 630.33,405.25 629.31,401.15 628.28,397.05 627.26,397.05 626.23,401.15 625.21,403.2 624.18,401.15 623.15,401.15 622.13,399.1 621.1,398.07 620.08,399.1 619.05,399.1 618.03,397.05 617,388.85 616.13,381.44 615.1,380.42 614.08,379.39 613.05,379.39 612.03,381.44 611,382.47 609.97,383.49 608.95,382.47 607.92,381.44 606.9,381.44 605.87,381.44 604.85,382.47 603.82,382.47 602.79,381.44 601.77,379.39 600.74,377.34 599.72,375.3 598.69,374.27 597.67,374.27 596.64,375.3 595.62,377.34 594.59,379.39 593.56,381.44 592.54,384.52 591.51,386.57 590.49,387.59 589.46,387.59 588.44,387.59 587.41,385.54 586.38,383.49 585.36,382.47 584.33,382.47 583.31,382.47 582.28,381.44 581.26,381.44 580.23,379.39 579.21,379.39 578.18,381.44 577.15,383.49 576.13,385.54 575.1,387.59 574.08,385.54 573.05,383.49 572.03,379.39 571,377.34 569.97,379.39 568.95,381.44 567.92,385.54 566.9,389.64 565.87,387.59 564.85,385.54 563.82,383.49 562.79,381.44 561.77,379.39 560.74,377.34 559.72,375.3 558.69,369.15 557.67,363 556.64,365.05 555.62,367.1 554.59,367.1 553.56,363 552.54,356.85 551.51,348.66 550.49,340.46 549.46,334.31 548.44,328.16 547.41,332.26 546.38,336.36 545.36,332.26 544.33,319.97 543.31,309.72 542.28,309.72 541.26,315.87 540.23,324.07 539.21,315.87 538.18,307.67 537.15,299.48 536.13,291.28 535.1,278.98 534.08,283.08 533.05,299.48 532.44,319.97"/>
<line x1="532.4" y1="371.5" x2="701.6" y2="371.5" stroke="#5cb08a" stroke-opacity="0.55" stroke-width="1"/>
<polyline fill="none" stroke="#e8262b" stroke-width="0.85" stroke-linejoin="miter" stroke-miterlimit="3" points="532.44,305.62 533.05,278.98 534.08,268.74 535.1,264.64 536.13,274.89 537.15,283.08 538.18,289.23 539.21,295.38 540.23,299.48 541.26,295.38 542.28,291.28 543.31,289.23 544.33,297.43 545.36,307.67 546.38,309.72 547.41,308.7 548.44,309.72 549.46,315.87 550.49,324.07 551.51,332.26 552.54,340.46 553.56,346.61 554.59,350.7 555.62,346.61 556.64,342.51 557.67,340.46 558.69,348.66 559.72,358.9 560.74,365.05 561.77,367.1 562.79,369.15 563.82,373.25 564.85,375.3 565.87,377.34 566.9,373.25 567.92,367.1 568.95,360.95 569.97,356.85 571,352.75 572.03,356.85 573.05,367.1 574.08,372.22 575.1,371.2 576.13,369.15 577.15,366.07 578.18,363 579.21,360.95 580.23,359.93 581.26,363 582.28,367.1 583.31,369.15 584.33,367.1 585.36,366.07 586.38,367.1 587.41,370.17 588.44,374.27 589.46,375.3 590.49,375.3 591.51,373.25 592.54,369.15 593.56,364.02 594.59,359.93 595.62,356.85 596.64,355.83 597.67,356.85 598.69,359.93 599.72,363 600.74,366.07 601.77,369.15 602.79,371.2 603.82,372.22 604.85,371.2 605.87,370.17 606.9,369.15 607.92,368.12 608.95,370.17 609.97,373.25 611,371.2 612.03,368.12 613.05,366.07 614.08,365.05 615.1,365.05 616.13,366.07 617,370.41 618.03,382.7 619.05,386.8 620.08,387.83 621.1,388.44 622.13,388.85 623.15,386.8 624.18,384.75 625.21,386.8 626.23,384.75 627.26,376.56 628.28,380.66 629.31,387.83 630.33,389.88 631.36,387.83 632.38,385.78 633.41,383.73 634.44,382.7 635.46,381.68 636.49,384.75 637.51,389.88 638.54,397.05 639.56,398.07 640.59,398.07 641.62,397.05 642.64,388.85 643.67,380.66 644.69,372.46 645.72,376.56 646.74,386.8 647.77,388.85 648.79,384.75 649.82,380.66 650.85,377.58 651.87,375.53 652.9,373.48 653.92,372.46 654.95,374.51 655.97,377.58 657,379.63 658.03,381.68 659.05,382.7 660.08,376.56 661.1,370.41 662.13,371.43 663.15,378.61 664.18,389.88 665.21,384.75 666.23,376.56 667.26,371.43 668.28,372.46 669.31,376.56 670.33,381.68 671.36,384.75 672.38,386.8 673.41,387.83 674.44,384.75 675.46,381.68 676.49,379.63 677.51,377.58 678.54,376.56 679.56,378.61 680.59,380.66 681.62,379.63 682.64,376.56 683.67,373.48 684.69,370.41 685.72,367.34 686.74,366.31 687.77,369.39 688.79,374.51 689.82,380.66 690.85,384.75 691.87,387.83 692.9,385.78 693.92,382.7 694.95,381.68 695.97,386.8 697,390.9 698.03,392.95 699.05,388.85 700.08,382.7 701.1,376.56 701.6,374.51"/>
<path d="M532.5,238.5V415.5" fill="none" stroke="#9c9c9c" stroke-width="1"/>
<path d="M532,415.5H701.6" fill="none" stroke="#8f8f8f" stroke-width="1"/>
<g font-family='"Liberation Sans", sans-serif' font-size="8.4" fill="#333" stroke="#333" stroke-width="0.15"><text transform="translate(530,261.3) scale(0.9,1)" text-anchor="end">0.45</text><text transform="translate(530,283.83) scale(0.9,1)" text-anchor="end">0.40</text><text transform="translate(530,306.37) scale(0.9,1)" text-anchor="end">0.35</text><text transform="translate(530,328.9) scale(0.9,1)" text-anchor="end">0.30</text><text transform="translate(530,351.43) scale(0.9,1)" text-anchor="end">0.25</text><text transform="translate(530,373.97) scale(0.9,1)" text-anchor="end">0.20</text><text transform="translate(530,396.5) scale(0.9,1)" text-anchor="end">0.15</text><text transform="translate(532.4,423.5) scale(0.9,1)" text-anchor="middle">0</text><text transform="translate(560.6,423.5) scale(0.9,1)" text-anchor="middle">20</text><text transform="translate(588.8,423.5) scale(0.9,1)" text-anchor="middle">40</text><text transform="translate(617,423.5) scale(0.9,1)" text-anchor="middle">60</text><text transform="translate(645.2,423.5) scale(0.9,1)" text-anchor="middle">80</text><text transform="translate(673.4,423.5) scale(0.9,1)" text-anchor="middle">100</text><text transform="translate(701.6,423.5) scale(0.9,1)" text-anchor="middle">120</text></g>
<text x="623.2" y="434.5" text-anchor="middle" font-family='"Liberation Sans", sans-serif' font-size="10" fill="#333" stroke="#333" stroke-width="0.15">Training Episodes</text>
<text transform="translate(510,321.7) rotate(-90)" text-anchor="middle" font-family='"Liberation Sans", sans-serif' font-size="10.5" fill="#333" stroke="#333" stroke-width="0.15">Violation Rate</text>
<text x="511.9" y="458.4" font-family='"Liberation Sans", sans-serif' font-weight="bold" font-size="13.75" fill="#000">(f)<tspan font-family='"Liberation Serif", serif' font-weight="normal" dx="5">DDQN+Expert Model+Offline</tspan></text>
<text x="544.1" y="475.3" font-family='"Liberation Serif", serif' font-size="13.75" fill="#000">RL+Expert Rules+Init</text>
<g stroke="#e8e8e8" stroke-width="1"><line x1="145.05" y1="486.1" x2="145.05" y2="667.1"/><line x1="165.7" y1="486.1" x2="165.7" y2="667.1"/><line x1="186.35" y1="486.1" x2="186.35" y2="667.1"/><line x1="207" y1="486.1" x2="207" y2="667.1"/><line x1="227.65" y1="486.1" x2="227.65" y2="667.1"/><line x1="248.3" y1="486.1" x2="248.3" y2="667.1"/><line x1="268.95" y1="486.1" x2="268.95" y2="667.1"/><line x1="289.6" y1="486.1" x2="289.6" y2="667.1"/><line x1="124.5" y1="520.3" x2="289.7" y2="520.3"/><line x1="124.5" y1="556.2" x2="289.7" y2="556.2"/><line x1="124.5" y1="592.3" x2="289.7" y2="592.3"/><line x1="124.5" y1="628" x2="289.7" y2="628"/><line x1="124.5" y1="664.1" x2="289.7" y2="664.1"/></g>
<polygon fill="#f03c3f" fill-opacity="0.3" points="124.5,504.1 124.85,520.49 125.26,536.89 125.67,545.08 126.69,547.13 127.72,549.18 128.74,551.23 129.77,553.28 130.79,547.13 131.82,557.38 132.85,567.62 133.87,569.67 134.9,565.57 135.92,561.48 136.95,562.5 137.97,561.48 139,561.48 140.03,561.48 141.05,560.45 142.08,559.43 143.1,557.38 144.13,559.43 145.15,565.57 146.18,569.67 147.21,561.48 148.23,577.87 149.26,586.07 150.28,581.97 151.31,586.07 152.33,590.16 153.36,581.97 154.38,569.67 155.41,586.07 156.44,590.16 157.46,594.26 158.49,594.26 159.51,596.31 160.54,596.31 161.56,598.36 162.59,592.21 163.62,590.16 164.64,596.31 165.67,598.36 166.69,584.02 167.72,590.16 168.74,606.56 169.77,606.56 170.79,592.21 171.82,577.87 172.85,584.02 173.87,588.11 174.9,586.07 175.92,575.82 176.95,577.87 177.97,592.21 179,598.36 180.03,592.21 181.05,596.31 182.08,600.41 183.1,604.51 184.13,606.56 185.15,606.56 186.18,606.56 187.21,606.56 188.23,604.51 189.26,598.36 190.28,596.31 191.31,600.41 192.33,602.46 193.36,596.31 194.38,592.21 195.41,594.26 196.44,590.16 197.46,588.11 198.49,577.87 199.51,581.97 200.54,586.07 201.56,581.97 202.59,584.02 203.62,592.21 204.64,598.36 205,607.87 205.67,600.41 206.03,601.72 207.05,611.97 208.08,595.57 209.1,605.82 210.13,616.07 211.15,609.92 212.18,603.77 213.21,605.82 214.23,611.97 215.26,616.07 216.28,620.16 217.31,620.16 218.33,620.16 219.36,622.21 220.38,620.16 221.41,618.11 222.44,616.07 223.46,607.87 224.49,597.62 225.51,585.33 226.54,564.84 227.56,587.38 228.59,599.67 229.62,591.48 230.64,587.38 231.67,593.52 232.69,603.77 233.72,601.72 234.74,593.52 235.77,591.48 236.79,599.67 237.82,611.97 238.85,597.62 239.87,570.98 240.9,591.48 241.92,607.87 242.95,591.48 243.97,595.57 245,607.87 246.03,616.07 247.05,616.07 248.08,611.97 249.1,591.48 250.13,589.43 251.15,597.62 252.18,607.87 253.21,618.11 254.23,622.21 255.26,607.87 256.28,607.87 257.31,599.67 258.33,595.57 259.36,609.92 260.38,620.16 261.41,624.26 262.44,626.31 263.46,622.21 264.49,607.87 265.51,611.97 266.54,618.11 267.56,620.16 268.59,616.07 269.62,607.87 270.64,607.87 271.67,618.11 272.69,624.26 273.72,622.21 274.74,620.16 275.77,622.21 276.79,624.26 277.82,626.31 278.85,628.36 279.87,626.31 280.9,618.11 281.92,611.97 282.95,599.67 283.97,591.48 285,601.72 286.03,616.07 287.05,622.21 288.08,624.26 289.1,618.11 289.7,616.07 289.7,646.8 289.1,648.85 288.08,652.95 287.05,652.95 286.03,650.9 285,648.85 283.97,644.75 282.95,646.8 281.92,648.85 280.9,650.9 279.87,652.95 278.85,655 277.82,652.95 276.79,651.93 275.77,650.9 274.74,649.88 273.72,650.9 272.69,650.9 271.67,650.9 270.64,650.9 269.62,650.9 268.59,650.9 267.56,650.9 266.54,650.9 265.51,650.9 264.49,652.95 263.46,655 262.44,656.02 261.41,655 260.38,655 259.36,655 258.33,652.95 257.31,655 256.28,659.1 255.26,657.05 254.23,652.95 253.21,652.95 252.18,655 251.15,655 250.13,652.95 249.1,644.75 248.08,638.61 247.05,637.58 246.03,638.61 245,638.61 243.97,638.61 242.95,642.7 241.92,644.75 240.9,638.61 239.87,632.46 238.85,634.51 237.82,640.66 236.79,638.61 235.77,634.51 234.74,637.58 233.72,638.61 232.69,638.61 231.67,637.58 230.64,636.56 229.62,638.61 228.59,640.66 227.56,636.56 226.54,632.46 225.51,630.41 224.49,634.51 223.46,636.56 222.44,638.61 221.41,638.61 220.38,639.63 219.36,640.66 218.33,640.66 217.31,640.66 216.28,640.66 215.26,638.61 214.23,636.56 213.21,636.56 212.18,638.61 211.15,640.66 210.13,642.7 209.1,638.61 208.08,634.51 207.05,636.56 206.03,636.56 205.67,632.17 205,634.51 204.64,631.15 203.62,629.1 202.59,627.05 201.56,627.05 200.54,629.1 199.51,627.05 198.49,628.07 197.46,626.02 196.44,626.02 195.41,627.05 194.38,627.05 193.36,628.07 192.33,630.12 191.31,629.1 190.28,629.1 189.26,630.12 188.23,631.15 187.21,631.15 186.18,631.15 185.15,632.17 184.13,633.2 183.1,633.2 182.08,633.2 181.05,633.2 180.03,633.2 179,633.2 177.97,631.15 176.95,629.1 175.92,627.05 174.9,627.05 173.87,628.07 172.85,630.12 171.82,631.15 170.79,631.15 169.77,632.17 168.74,631.15 167.72,629.1 166.69,627.05 165.67,627.05 164.64,626.02 163.62,625 162.59,623.98 161.56,623.98 160.54,623.98 159.51,625 158.49,623.98 157.46,622.95 156.44,622.95 155.41,622.95 154.38,620.9 153.36,620.9 152.33,622.95 151.31,622.95 150.28,620.9 149.26,620.9 148.23,618.85 147.21,618.85 146.18,616.8 145.15,612.7 144.13,602.46 143.1,596.31 142.08,594.26 141.05,590.16 140.03,592.21 139,594.26 137.97,598.36 136.95,600.41 135.92,596.31 134.9,598.36 133.87,604.51 132.85,606.56 131.82,602.46 130.79,590.16 129.77,588.11 128.74,590.16 127.72,592.21 126.69,592.21 125.67,590.16 125.26,579.92 124.85,571.72 124.5,551.23"/>
<line x1="124.5" y1="647.5" x2="289.7" y2="647.5" stroke="#5cb08a" stroke-opacity="0.55" stroke-width="1"/>
<polyline fill="none" stroke="#e8262b" stroke-width="0.85" stroke-linejoin="miter" stroke-miterlimit="3" points="124.5,514.34 124.85,540.98 125.26,559.43 125.67,569.67 126.69,570.7 127.72,571.72 128.74,570.7 129.77,569.67 130.79,568.65 131.82,581.97 132.85,590.16 133.87,592.21 134.9,581.97 135.92,575.82 136.95,586.07 137.97,588.11 139,577.87 140.03,573.77 141.05,577.87 142.08,581.97 143.1,579.92 144.13,586.07 145.15,596.31 146.18,598.36 147.21,596.31 148.23,604.51 149.26,610.66 150.28,604.51 151.31,608.61 152.33,612.7 153.36,604.51 154.38,610.66 155.41,614.75 156.44,612.7 157.46,616.8 158.49,616.8 159.51,617.83 160.54,617.83 161.56,618.85 162.59,614.75 163.62,612.7 164.64,615.78 165.67,618.85 166.69,611.68 167.72,614.75 168.74,627.05 169.77,627.05 170.79,614.75 171.82,610.66 172.85,614.75 173.87,608.61 174.9,602.46 175.92,600.41 176.95,608.61 177.97,618.85 179,622.95 180.03,618.85 181.05,620.9 182.08,622.95 183.1,622.95 184.13,623.98 185.15,623.98 186.18,625 187.21,626.02 188.23,627.05 189.26,620.9 190.28,617.83 191.31,620.9 192.33,622.95 193.36,617.83 194.38,614.75 195.41,616.8 196.44,612.7 197.46,610.66 198.49,614.75 199.51,610.66 200.54,616.8 201.56,611.68 202.59,610.66 203.62,616.8 204.64,620.9 205,624.26 205.67,622.95 206.03,626.31 207.05,628.36 208.08,618.11 209.1,624.26 210.13,636.56 211.15,630.41 212.18,622.21 213.21,618.11 214.23,624.26 215.26,628.36 216.28,631.43 217.31,632.46 218.33,630.41 219.36,632.46 220.38,631.43 221.41,630.41 222.44,626.31 223.46,624.26 224.49,616.07 225.51,611.97 226.54,609.92 227.56,616.07 228.59,624.26 229.62,622.21 230.64,618.11 231.67,620.16 232.69,624.26 233.72,624.26 234.74,622.21 235.77,618.11 236.79,624.26 237.82,626.31 238.85,616.07 239.87,611.97 240.9,624.26 241.92,634.51 242.95,624.26 243.97,620.16 245,626.31 246.03,628.36 247.05,627.34 248.08,628.36 249.1,629.39 250.13,626.31 251.15,630.41 252.18,638.61 253.21,641.68 254.23,642.7 255.26,640.66 256.28,634.51 257.31,626.31 258.33,620.16 259.36,632.46 260.38,642.7 261.41,645.78 262.44,646.8 263.46,644.75 264.49,636.56 265.51,634.51 266.54,636.56 267.56,636.56 268.59,634.51 269.62,632.46 270.64,636.56 271.67,638.61 272.69,641.68 273.72,638.61 274.74,637.58 275.77,640.66 276.79,641.68 277.82,642.7 278.85,647.83 279.87,644.75 280.9,636.56 281.92,632.46 282.95,628.36 283.97,624.26 285,628.36 286.03,636.56 287.05,642.7 288.08,644.75 289.1,636.56 289.7,633.48"/>
<path d="M124.5,486.1V667.5" fill="none" stroke="#9c9c9c" stroke-width="1"/>
<path d="M124,667.5H289.7" fill="none" stroke="#8f8f8f" stroke-width="1"/>
<g font-family='"Liberation Sans", sans-serif' font-size="8.4" fill="#333" stroke="#333" stroke-width="0.15"><text transform="translate(118.2,523.4) scale(0.9,1)" text-anchor="end">0.4</text><text transform="translate(118.2,559.3) scale(0.9,1)" text-anchor="end">0.3</text><text transform="translate(118.2,595.4) scale(0.9,1)" text-anchor="end">0.2</text><text transform="translate(118.2,631.1) scale(0.9,1)" text-anchor="end">0.1</text><text transform="translate(121.1,650.3) scale(0.9,1)" text-anchor="end">0.05</text><text transform="translate(118.2,667.2) scale(0.9,1)" text-anchor="end">0.0</text><text transform="translate(124.5,675.6) scale(0.9,1)" text-anchor="middle">0</text><text transform="translate(145.15,675.6) scale(0.9,1)" text-anchor="middle">25</text><text transform="translate(165.8,675.6) scale(0.9,1)" text-anchor="middle">50</text><text transform="translate(186.45,675.6) scale(0.9,1)" text-anchor="middle">75</text><text transform="translate(207.1,675.6) scale(0.9,1)" text-anchor="middle">100</text><text transform="translate(227.75,675.6) scale(0.9,1)" text-anchor="middle">125</text><text transform="translate(248.4,675.6) scale(0.9,1)" text-anchor="middle">150</text><text transform="translate(269.05,675.6) scale(0.9,1)" text-anchor="middle">175</text><text transform="translate(289.7,675.6) scale(0.9,1)" text-anchor="middle">200</text></g>
<text x="211.35" y="687.7" text-anchor="middle" font-family='"Liberation Sans", sans-serif' font-size="10" fill="#333" stroke="#333" stroke-width="0.15">Training Episodes</text>
<text transform="translate(99.3,579.2) rotate(-90)" text-anchor="middle" font-family='"Liberation Sans", sans-serif' font-size="10.5" fill="#333" stroke="#333" stroke-width="0.15">Violation Rate</text>
<text x="100.1" y="711.8" font-family='"Liberation Sans", sans-serif' font-weight="bold" font-size="13.75" fill="#000">(g)<tspan font-family='"Liberation Serif", serif' font-weight="normal" dx="5">DDQN, heavyweight building</tspan></text>
<g stroke="#e8e8e8" stroke-width="1"><line x1="469.46" y1="488.1" x2="469.46" y2="667.1"/><line x1="490.32" y1="488.1" x2="490.32" y2="667.1"/><line x1="511.19" y1="488.1" x2="511.19" y2="667.1"/><line x1="532.05" y1="488.1" x2="532.05" y2="667.1"/><line x1="552.91" y1="488.1" x2="552.91" y2="667.1"/><line x1="573.77" y1="488.1" x2="573.77" y2="667.1"/><line x1="594.64" y1="488.1" x2="594.64" y2="667.1"/><line x1="615.5" y1="488.1" x2="615.5" y2="667.1"/><line x1="448.7" y1="657.9" x2="615.6" y2="657.9"/><line x1="448.7" y1="615.5" x2="615.6" y2="615.5"/><line x1="448.7" y1="594.3" x2="615.6" y2="594.3"/><line x1="448.7" y1="573.1" x2="615.6" y2="573.1"/><line x1="448.7" y1="551.9" x2="615.6" y2="551.9"/><line x1="448.7" y1="530.7" x2="615.6" y2="530.7"/><line x1="448.7" y1="509.5" x2="615.6" y2="509.5"/><line x1="448.7" y1="488.3" x2="615.6" y2="488.3"/></g>
<polygon fill="#f03c3f" fill-opacity="0.3" points="448.7,498.25 449.46,518.74 450.49,541.28 451.5,558.5 452.26,575.04 453.76,575.04 455.26,590.08 456.76,587.07 458.26,579.55 459.76,569.02 460.81,551.58 462.02,582.56 463.52,602.11 464.72,529.92 465.47,510.53 466.52,544.96 468.02,578.05 469.52,582.56 471.02,557.74 472.53,575.04 473.73,590.08 475.23,587.07 476.73,567.52 478.23,575.04 480.03,575.04 481.23,582.56 482.74,602.11 484.24,605.11 485.74,608.12 487.24,609.62 488.74,590.08 490.24,576.54 491.74,596.09 493.25,614.14 494.75,593.08 496.25,591.58 497.75,602.11 499.25,609.62 500.75,609.62 502.26,609.62 503.76,597.59 505.26,605.11 506.76,620.15 508.26,611.13 509.76,611.13 511.26,614.14 512.77,615.64 514.27,614.14 515.77,617.14 517.27,624.66 518.77,620.15 520.27,624.66 521.77,620.15 523.28,617.14 524.78,617.14 526.28,614.14 527.78,615.64 529.28,617.14 530.78,614.14 532.29,612.63 533,615.64 533.75,609.62 533.79,614.14 534.5,602.11 535.25,605.11 536,617.14 536.75,623.16 537.5,623.16 538.26,623.16 539.01,621.65 539.76,623.16 540.51,621.65 541.26,620.15 542.01,623.16 542.76,608.12 543.51,603.61 544.26,609.62 545.01,620.15 545.76,626.17 546.51,627.67 547.26,627.67 548.02,624.66 548.77,621.65 549.52,618.65 550.27,617.14 551.02,615.64 551.77,612.63 552.52,614.14 553.27,620.15 554.02,623.16 554.77,623.16 555.52,623.16 556.27,627.67 557.02,626.17 557.77,623.16 558.53,623.16 559.28,624.66 560.03,626.17 560.78,627.67 561.53,626.17 562.28,626.17 563.03,627.67 563.78,629.17 564.53,629.17 565.28,630.68 566.03,630.68 566.78,627.67 567.53,624.66 568.29,624.66 569.04,626.17 569.79,626.17 570.54,624.66 571.29,624.66 572.04,624.66 572.79,626.17 573.54,626.17 574.29,620.15 575.04,615.64 575.79,621.65 576.54,627.67 577.29,630.68 578.05,629.17 578.8,626.17 579.55,624.66 580.3,623.16 581.05,620.15 581.8,614.14 582.55,608.12 583.3,611.13 584.05,612.63 584.8,612.63 585.55,609.62 586.3,608.12 587.05,599.1 587.8,590.08 588.56,582.56 589.31,590.08 590.06,605.11 590.81,617.14 591.56,620.15 592.31,623.16 593.06,617.14 593.81,614.14 594.56,623.16 595.31,626.17 596.06,624.66 596.81,623.16 597.56,624.66 598.32,623.16 599.07,618.65 599.82,614.14 600.57,611.13 601.32,614.14 602.07,617.14 602.82,620.15 603.57,623.16 604.32,617.14 605.07,603.61 605.82,600.6 606.57,611.13 607.32,620.15 608.08,618.65 608.83,617.14 609.58,615.64 610.33,614.14 611.08,609.62 611.83,600.6 612.58,599.1 613.33,608.12 614.08,617.14 614.83,623.16 615.58,626.17 615.58,647.22 614.83,644.21 614.08,641.2 613.33,638.2 612.58,635.19 611.83,636.69 611.08,638.2 610.33,639.7 609.58,639.7 608.83,641.2 608.08,642.71 607.32,644.21 606.57,641.2 605.82,639.7 605.07,641.2 604.32,647.22 603.57,648.72 602.82,648.72 602.07,647.22 601.32,645.71 600.57,644.21 599.82,645.71 599.07,647.22 598.32,647.22 597.56,648.72 596.81,650.23 596.06,654.74 595.31,657.74 594.56,656.24 593.81,651.73 593.06,651.73 592.31,653.23 591.56,651.73 590.81,650.23 590.06,647.22 589.31,644.21 588.56,641.2 587.8,641.2 587.05,641.2 586.3,644.21 585.55,648.72 584.8,653.23 584.05,657.74 583.3,656.24 582.55,651.73 581.8,647.22 581.05,644.21 580.3,644.21 579.55,645.71 578.8,648.72 578.05,651.73 577.29,653.23 576.54,650.23 575.79,644.21 575.04,641.2 574.29,641.2 573.54,641.95 572.79,641.2 572.04,641.2 571.29,641.2 570.54,641.2 569.79,641.2 569.04,641.2 568.29,641.2 567.53,644.21 566.78,648.72 566.03,651.73 565.28,647.22 564.53,644.21 563.78,644.21 563.03,644.21 562.28,645.71 561.53,645.71 560.78,644.21 560.03,641.95 559.28,641.2 558.53,642.71 557.77,644.21 557.02,645.71 556.27,647.22 555.52,645.71 554.77,644.21 554.02,642.71 553.27,641.2 552.52,639.7 551.77,638.2 551.02,638.2 550.27,639.7 549.52,641.2 548.77,644.21 548.02,650.23 547.26,657.74 546.51,653.23 545.76,650.23 545.01,644.21 544.26,638.2 543.51,636.69 542.76,638.2 542.01,642.71 541.26,644.21 540.51,641.2 539.76,638.2 539.01,638.2 538.26,636.69 537.5,639.7 536.75,642.71 536,641.2 535.25,642.71 534.5,642.71 533.79,638.2 533.75,641.2 533,638.2 532.29,638.2 530.78,641.2 529.28,648.72 527.78,651.73 526.28,644.21 524.78,641.2 523.28,641.2 521.77,644.21 520.27,650.23 518.77,647.22 517.27,651.73 515.77,647.22 514.27,644.21 512.77,642.71 511.26,639.7 509.76,635.19 508.26,632.18 506.76,638.2 505.26,629.17 503.76,629.17 502.26,638.2 500.75,635.19 499.25,632.18 497.75,629.17 496.25,629.17 494.75,632.18 493.25,638.2 491.74,636.69 490.24,629.17 488.74,632.18 487.24,635.19 485.74,632.18 484.24,633.68 482.74,632.18 481.23,620.15 480.03,609.62 478.23,624.66 476.73,620.15 475.23,630.68 473.73,630.68 472.53,621.65 471.02,617.14 469.52,629.17 468.02,626.17 466.52,608.12 465.47,597.59 464.72,605.11 463.52,638.2 462.02,623.16 460.81,611.13 459.76,617.14 458.26,623.16 456.76,624.66 455.26,630.68 453.76,618.65 452.26,620.15 451.5,609.62 450.49,602.75 449.46,586.36 448.7,574.07"/>
<line x1="448.7" y1="636.5" x2="615.6" y2="636.5" stroke="#5cb08a" stroke-opacity="0.55" stroke-width="1"/>
<polyline fill="none" stroke="#e8262b" stroke-width="0.85" stroke-linejoin="miter" stroke-miterlimit="3" points="448.7,528.98 449.46,555.62 450.49,574.07 451.5,584.06 452.26,591.58 453.76,592.33 455.26,608.12 456.76,605.11 458.26,604.36 459.76,596.09 460.81,587.07 462.02,603.61 463.52,621.65 464.72,578.05 465.47,566.02 466.52,579.55 468.02,600.6 469.52,601.35 471.02,587.07 472.53,597.59 473.73,608.12 475.23,608.12 476.73,597.59 478.23,603.61 480.03,587.07 481.23,599.1 482.74,617.14 484.24,620.15 485.74,621.65 487.24,626.17 488.74,617.14 490.24,606.62 491.74,618.65 493.25,629.17 494.75,617.14 496.25,613.38 497.75,614.14 499.25,617.14 500.75,621.65 502.26,626.17 503.76,615.64 505.26,617.14 506.76,633.68 508.26,621.65 509.76,623.16 511.26,626.17 512.77,627.67 514.27,628.42 515.77,629.17 517.27,636.69 518.77,632.18 520.27,639.7 521.77,629.17 523.28,626.17 524.78,624.66 526.28,626.17 527.78,630.68 529.28,627.67 530.78,624.66 532.29,626.17 533,626.17 533.75,623.16 533.79,624.66 534.5,621.65 535.25,620.15 536,626.17 536.75,633.68 537.5,629.17 538.26,626.17 539.01,627.67 539.76,626.17 540.51,630.68 541.26,633.68 542.01,632.18 542.76,623.16 543.51,618.65 544.26,621.65 545.01,629.17 545.76,635.19 546.51,636.69 547.26,639.7 548.02,635.19 548.77,629.17 549.52,626.17 550.27,624.66 551.02,624.66 551.77,624.66 552.52,626.17 553.27,627.67 554.02,629.17 554.77,627.67 555.52,630.68 556.27,636.69 557.02,635.19 557.77,632.18 558.53,630.68 559.28,629.17 560.03,630.68 560.78,633.68 561.53,633.68 562.28,634.44 563.03,635.19 563.78,635.94 564.53,635.19 565.28,636.69 566.03,639.7 566.78,635.19 567.53,630.68 568.29,632.18 569.04,633.68 569.79,632.18 570.54,630.68 571.29,630.68 572.04,629.17 572.79,629.92 573.54,630.68 574.29,627.67 575.04,626.92 575.79,630.68 576.54,636.69 577.29,641.2 578.05,638.2 578.8,635.19 579.55,632.18 580.3,630.68 581.05,629.17 581.8,630.68 582.55,633.68 583.3,638.2 584.05,636.69 584.8,630.68 585.55,624.66 586.3,621.65 587.05,620.15 587.8,619.4 588.56,618.65 589.31,621.65 590.06,627.67 590.81,633.68 591.56,636.69 592.31,638.2 593.06,635.19 593.81,633.68 594.56,639.7 595.31,642.71 596.06,639.7 596.81,635.94 597.56,635.19 598.32,633.68 599.07,632.18 599.82,629.17 600.57,624.66 601.32,626.17 602.07,629.17 602.82,632.18 603.57,635.19 604.32,632.18 605.07,620.15 605.82,618.65 606.57,624.66 607.32,630.68 608.08,629.17 608.83,627.67 609.58,626.17 610.33,626.17 611.08,623.16 611.83,620.15 612.58,618.65 613.33,623.16 614.08,629.17 614.83,633.68 615.58,636.69"/>
<path d="M448.5,488.1V667.5" fill="none" stroke="#9c9c9c" stroke-width="1"/>
<path d="M448,667.5H615.6" fill="none" stroke="#8f8f8f" stroke-width="1"/>
<g font-family='"Liberation Sans", sans-serif' font-size="8.4" fill="#333" stroke="#333" stroke-width="0.15"><text transform="translate(446.3,661) scale(0.9,1)" text-anchor="end">0.025</text><text transform="translate(446.3,639.8) scale(0.9,1)" text-anchor="end">0.050</text><text transform="translate(446.3,618.6) scale(0.9,1)" text-anchor="end">0.075</text><text transform="translate(446.3,597.4) scale(0.9,1)" text-anchor="end">0.100</text><text transform="translate(446.3,576.2) scale(0.9,1)" text-anchor="end">0.125</text><text transform="translate(446.3,555) scale(0.9,1)" text-anchor="end">0.150</text><text transform="translate(446.3,533.8) scale(0.9,1)" text-anchor="end">0.175</text><text transform="translate(446.3,512.6) scale(0.9,1)" text-anchor="end">0.200</text><text transform="translate(446.3,491.4) scale(0.9,1)" text-anchor="end">0.225</text><text transform="translate(450.5,675.6) scale(0.9,1)" text-anchor="middle">0</text><text transform="translate(471.14,675.6) scale(0.9,1)" text-anchor="middle">25</text><text transform="translate(491.77,675.6) scale(0.9,1)" text-anchor="middle">50</text><text transform="translate(512.41,675.6) scale(0.9,1)" text-anchor="middle">75</text><text transform="translate(533.05,675.6) scale(0.9,1)" text-anchor="middle">100</text><text transform="translate(553.69,675.6) scale(0.9,1)" text-anchor="middle">125</text><text transform="translate(574.33,675.6) scale(0.9,1)" text-anchor="middle">150</text><text transform="translate(594.96,675.6) scale(0.9,1)" text-anchor="middle">175</text><text transform="translate(615.6,675.6) scale(0.9,1)" text-anchor="middle">200</text></g>
<text x="537.9" y="687.7" text-anchor="middle" font-family='"Liberation Sans", sans-serif' font-size="10" fill="#333" stroke="#333" stroke-width="0.15">Training Episodes</text>
<text transform="translate(422.8,575.8) rotate(-90)" text-anchor="middle" font-family='"Liberation Sans", sans-serif' font-size="10.5" fill="#333" stroke="#333" stroke-width="0.15">Violation Rate</text>
<text x="389.6" y="711.9" font-family='"Liberation Sans", sans-serif' font-weight="bold" font-size="13.75" fill="#000">(h)<tspan font-family='"Liberation Serif", serif' font-weight="normal" dx="5">DDQN+Expert Model+Offline RL+Expert</tspan></text>
<text x="426.6" y="728.4" font-family='"Liberation Serif", serif' font-size="13.75" fill="#000">Rules+Init, heavyweight building</text>
</svg></body></html>
